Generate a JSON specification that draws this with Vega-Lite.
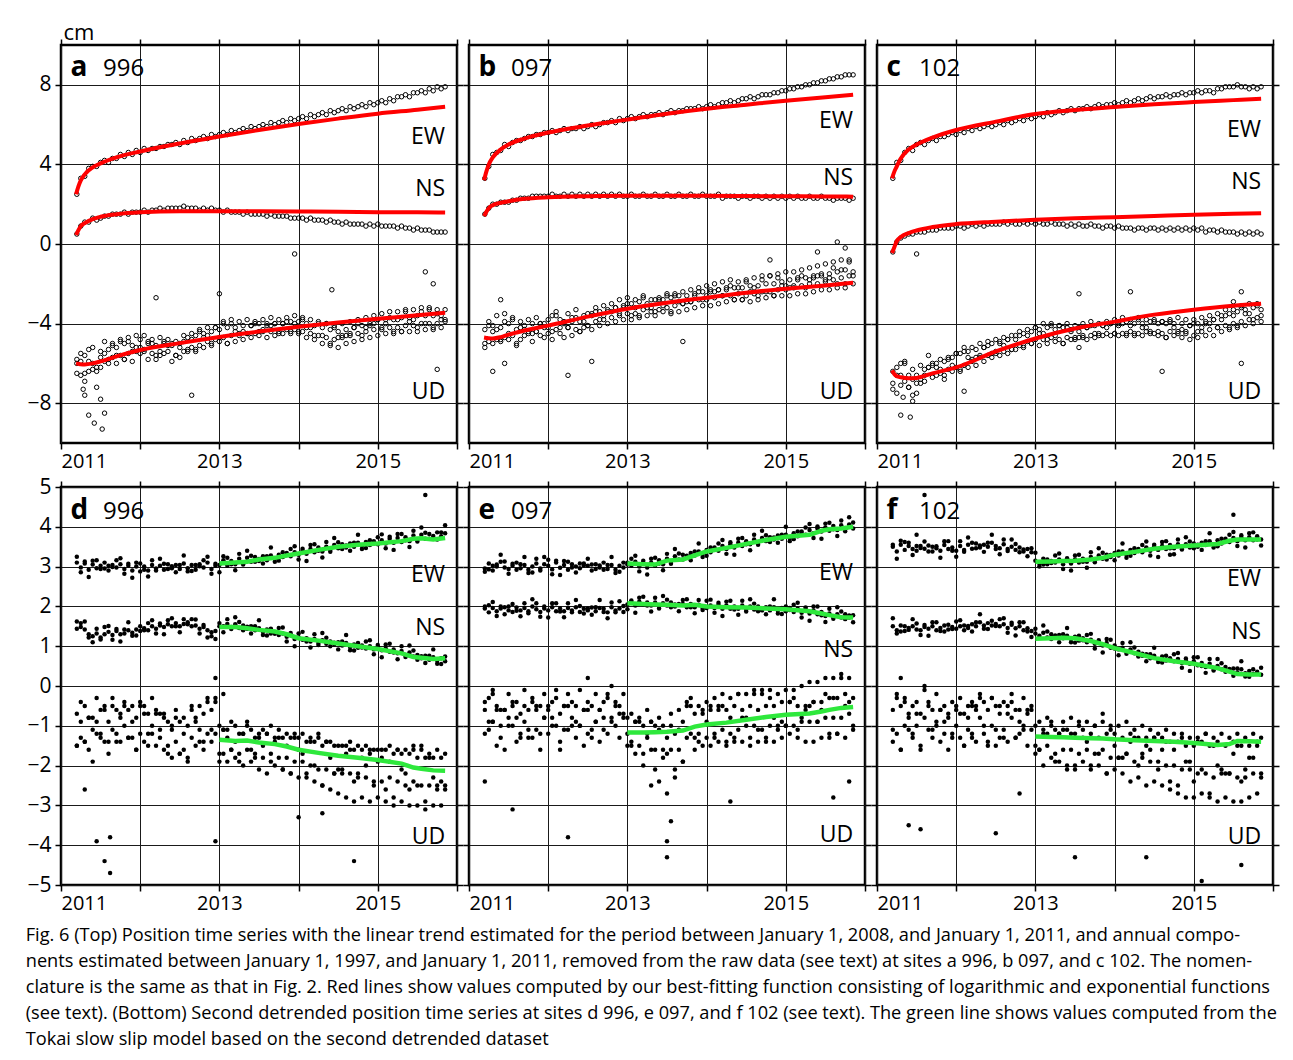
{
"$schema":"https://vega.github.io/schema/vega-lite/v6.json",
"background":"white",
"padding":{"left":25,"top":19,"right":4,"bottom":4},
"datasets":{
"pts":[
{"t":2011.2,"aE":2.5,"aN":0.5,"aU":-5.8,"aV":-6.5,"bE":3.3,"bN":1.5,"bU":-4.3,"bV":-5.2,"cE":3.3,"cN":-0.4,"cU":-6.4,"cV":-7.3,"dE":3.1,"dN":1.62,"dU":-0.7,"dV":-1.5,"eE":2.95,"eN":2.0,"eU":-0.4,"eV":-1.2,"fE":3.5,"fN":1.5,"fU":-0.6,"fV":-1.4,"aW":-6.0,"bW":-5.0,"cW":-7.0,"dW":-1.5,"eW":-0.6,"fW":-1.1},
{"t":2011.25,"aE":3.3,"aN":0.9,"aU":-6.6,"aV":-5.5,"bE":3.9,"bN":1.8,"bU":-4.9,"bV":-3.9,"cE":4.1,"cN":0.1,"cU":-7.5,"cV":-6.2,"dE":2.98,"dN":1.48,"dU":-1.3,"dV":-0.4,"eE":3.08,"eN":1.85,"eU":-1.1,"eV":-0.3,"fE":3.38,"fN":1.4,"fU":-1.2,"fV":-0.2,"aW":-5.9,"bW":-4.1,"cW":-6.6,"dW":-0.9,"eW":-0.9,"fW":-0.3},
{"t":2011.3,"aE":3.4,"aN":1.1,"aU":-5.6,"aV":-6.9,"bE":4.5,"bN":2.0,"bU":-4.1,"bV":-5.0,"cE":4.2,"cN":0.3,"cU":-6.0,"cV":-7.1,"dE":3.08,"dN":1.42,"dU":-0.5,"dV":-1.4,"eE":2.9,"eN":1.96,"eU":-0.9,"eV":-0.2,"fE":3.55,"fN":1.52,"fU":-0.5,"fV":-1.6,"aW":-6.5,"bW":-4.4,"cW":-6.6,"dW":-1.4,"eW":-0.9,"fW":-1.6},
{"t":2011.35,"aE":3.8,"aN":1.1,"aU":-6.4,"aV":-5.3,"bE":4.6,"bN":2.0,"bU":-4.8,"bV":-3.6,"cE":4.6,"cN":0.4,"cU":-6.9,"cV":-5.9,"dE":2.92,"dN":1.3,"dU":-1.6,"dV":-0.8,"eE":3.05,"eN":1.88,"eU":-0.5,"eV":-1.5,"fE":3.42,"fN":1.38,"fU":-1.0,"fV":-0.3,"aW":-5.9,"bW":-4.3,"cW":-6.0,"dW":-0.8,"eW":-0.6,"fW":-0.4},
{"t":2011.4,"aE":3.9,"aN":1.3,"aU":-5.2,"aV":-6.3,"bE":4.7,"bN":2.1,"bU":-4.2,"bV":-4.9,"cE":4.8,"cN":0.5,"cU":-7.2,"cV":-6.6,"dE":3.05,"dN":1.25,"dU":-0.8,"dV":-1.9,"eE":3.12,"eN":1.95,"eU":-1.3,"eV":-0.6,"fE":3.6,"fN":1.46,"fU":-0.7,"fV":-1.1,"aW":-6.0,"bW":-4.8,"cW":-7.2,"dW":-1.1,"eW":-1.0,"fW":-0.8},
{"t":2011.45,"aE":3.9,"aN":1.2,"aU":-6.2,"aV":-7.2,"bE":5.0,"bN":2.1,"bU":-4.7,"bV":-3.5,"cE":4.7,"cN":0.5,"cU":-6.3,"cV":-7.6,"dE":2.96,"dN":1.32,"dU":-1.2,"dV":-0.3,"eE":2.98,"eN":1.98,"eU":-0.6,"eV":-1.6,"fE":3.44,"fN":1.5,"fU":-1.3,"fV":-0.5,"aW":-6.4,"bW":-3.9,"cW":-6.8,"dW":-0.9,"eW":-0.6,"fW":-1.2},
{"t":2011.5,"aE":4.1,"aN":1.3,"aU":-5.4,"aV":-6.2,"bE":4.9,"bN":2.1,"bU":-4.0,"bV":-4.8,"cE":5.0,"cN":0.6,"cU":-6.6,"cV":-7.5,"dE":3.02,"dN":1.22,"dU":-0.6,"dV":-1.3,"eE":2.94,"eN":1.9,"eU":-0.8,"eV":-0.2,"fE":3.4,"fN":1.42,"fU":-0.4,"fV":-1.0,"aW":-5.7,"bW":-4.5,"cW":-7.0,"dW":-1.2,"eW":-1.0,"fW":-0.7},
{"t":2011.55,"aE":4.2,"aN":1.4,"aU":-5.9,"aV":-4.9,"bE":5.1,"bN":2.2,"bU":-4.6,"bV":-3.7,"cE":5.1,"cN":0.6,"cU":-6.1,"cV":-7.0,"dE":3.1,"dN":1.3,"dU":-1.4,"dV":-0.5,"eE":3.02,"eN":1.86,"eU":-1.0,"eV":-0.5,"fE":3.52,"fN":1.4,"fU":-1.5,"fV":-0.7,"aW":-5.5,"bW":-3.8,"cW":-6.8,"dW":-0.6,"eW":-0.4,"fW":-1.6},
{"t":2011.6,"aE":4.1,"aN":1.4,"aU":-5.3,"aV":-6.0,"bE":5.2,"bN":2.2,"bU":-4.3,"bV":-5.1,"cE":5.0,"cN":0.6,"cU":-6.9,"cV":-6.3,"dE":2.9,"dN":1.36,"dU":-0.9,"dV":-1.7,"eE":3.1,"eN":1.97,"eU":-0.4,"eV":-1.4,"fE":3.45,"fN":1.48,"fU":-0.8,"fV":-0.1,"aW":-5.8,"bW":-5.0,"cW":-6.6,"dW":-1.4,"eW":-0.8,"fW":0.0},
{"t":2011.65,"aE":4.3,"aN":1.5,"aU":-5.7,"aV":-5.0,"bE":5.2,"bN":2.3,"bU":-4.8,"bV":-3.9,"cE":5.2,"cN":0.7,"cU":-6.2,"cV":-5.6,"dE":3.04,"dN":1.28,"dU":-0.5,"dV":-1.1,"eE":2.96,"eN":1.9,"eU":-1.2,"eV":-0.7,"fE":3.38,"fN":1.44,"fU":-1.1,"fV":-0.4,"aW":-5.1,"bW":-4.2,"cW":-6.2,"dW":-0.3,"eW":-1.3,"fW":-0.5},
{"t":2011.7,"aE":4.3,"aN":1.5,"aU":-5.2,"aV":-6.0,"bE":5.3,"bN":2.3,"bU":-4.1,"bV":-4.6,"cE":5.3,"cN":0.7,"cU":-6.7,"cV":-6.0,"dE":2.98,"dN":1.38,"dU":-1.2,"dV":-0.6,"eE":3.04,"eN":1.96,"eU":-0.9,"eV":-0.1,"fE":3.5,"fN":1.5,"fU":-0.6,"fV":-1.3,"aW":-5.6,"bW":-4.3,"cW":-6.1,"dW":-1.4,"eW":-0.5,"fW":-1.1},
{"t":2011.75,"aE":4.5,"aN":1.5,"aU":-5.6,"aV":-4.8,"bE":5.4,"bN":2.3,"bU":-4.5,"bV":-3.8,"cE":5.2,"cN":0.7,"cU":-6.0,"cV":-6.6,"dE":3.06,"dN":1.3,"dU":-0.7,"dV":-1.4,"eE":2.92,"eN":1.88,"eU":-0.6,"eV":-1.1,"fE":3.46,"fN":1.4,"fU":-1.0,"fV":-0.2,"aW":-4.9,"bW":-4.4,"cW":-6.2,"dW":-0.8,"eW":-1.3,"fW":-0.9},
{"t":2011.8,"aE":4.4,"aN":1.6,"aU":-5.0,"aV":-5.8,"bE":5.4,"bN":2.4,"bU":-4.0,"bV":-4.9,"cE":5.4,"cN":0.8,"cU":-6.5,"cV":-5.8,"dE":2.94,"dN":1.32,"dU":-1.0,"dV":-0.4,"eE":3.0,"eN":2.0,"eU":-0.3,"eV":-1.3,"fE":3.4,"fN":1.46,"fU":-1.4,"fV":-0.6,"aW":-5.8,"bW":-4.5,"cW":-6.3,"dW":-0.5,"eW":-0.4,"fW":-0.6},
{"t":2011.85,"aE":4.6,"aN":1.5,"aU":-5.5,"aV":-4.7,"bE":5.5,"bN":2.4,"bU":-4.4,"bV":-3.7,"cE":5.4,"cN":0.8,"cU":-5.9,"cV":-6.8,"dE":3.02,"dN":1.4,"dU":-0.6,"dV":-1.3,"eE":3.08,"eN":1.93,"eU":-1.1,"eV":-0.5,"fE":3.54,"fN":1.52,"fU":-0.5,"fV":-1.2,"aW":-4.9,"bW":-4.4,"cW":-6.6,"dW":-1.3,"eW":-0.6,"fW":-0.9},
{"t":2011.9,"aE":4.5,"aN":1.6,"aU":-5.1,"aV":-5.9,"bE":5.5,"bN":2.4,"bU":-4.6,"bV":-4.0,"cE":5.5,"cN":0.8,"cU":-6.3,"cV":-5.7,"dE":2.9,"dN":1.34,"dU":-1.3,"dV":-0.5,"eE":2.95,"eN":1.86,"eU":-0.5,"eV":-1.6,"fE":3.44,"fN":1.42,"fU":-0.8,"fV":-1.6,"aW":-5.4,"bW":-4.0,"cW":-5.8,"dW":-0.9,"eW":-1.2,"fW":-0.7},
{"t":2011.95,"aE":4.7,"aN":1.6,"aU":-5.4,"aV":-4.6,"bE":5.6,"bN":2.4,"bU":-4.0,"bV":-4.7,"cE":5.6,"cN":0.8,"cU":-5.7,"cV":-6.4,"dE":3.0,"dN":1.42,"dU":-0.8,"dV":-1.6,"eE":3.06,"eN":1.95,"eU":-0.8,"eV":-0.2,"fE":3.48,"fN":1.48,"fU":-1.2,"fV":-0.4,"aW":-5.2,"bW":-4.2,"cW":-6.1,"dW":-1.6,"eW":-0.8,"fW":-1.3},
{"t":2012.0,"aE":4.6,"aN":1.6,"aU":-4.8,"aV":-5.5,"bE":5.6,"bN":2.4,"bU":-4.5,"bV":-3.8,"cE":5.5,"cN":0.9,"cU":-6.2,"cV":-5.5,"dE":2.88,"dN":1.38,"dU":-0.5,"dV":-1.2,"eE":3.02,"eN":1.9,"eU":-1.2,"eV":-0.6,"fE":3.4,"fN":1.44,"fU":-0.6,"fV":-1.0,"aW":-5.2,"bW":-4.2,"cW":-5.5,"dW":-0.4,"eW":-0.5,"fW":-0.5},
{"t":2012.05,"aE":4.8,"aN":1.7,"aU":-5.4,"aV":-4.6,"bE":5.7,"bN":2.5,"bU":-3.6,"bV":-4.8,"cE":5.7,"cN":0.9,"cU":-5.5,"cV":-6.4,"dE":3.0,"dN":1.45,"dU":-1.4,"dV":-0.5,"eE":2.93,"eN":1.98,"eU":-0.4,"eV":-1.0,"fE":3.52,"fN":1.5,"fU":-1.3,"fV":-0.3,"aW":-5.3,"bW":-4.4,"cW":-6.3,"dW":-0.7,"eW":-0.8,"fW":-0.7},
{"t":2012.1,"aE":4.7,"aN":1.6,"aU":-4.9,"aV":-5.8,"bE":5.6,"bN":2.4,"bU":-4.3,"bV":-3.4,"cE":5.6,"cN":0.8,"cU":-6.1,"cV":-5.2,"dE":2.9,"dN":1.4,"dU":-0.7,"dV":-1.5,"eE":3.1,"eN":1.88,"eU":-1.0,"eV":-0.3,"fE":3.42,"fN":1.52,"fU":-0.7,"fV":-1.5,"aW":-5.0,"bW":-3.6,"cW":-5.4,"dW":-1.2,"eW":-0.1,"fW":-1.5},
{"t":2012.15,"aE":4.8,"aN":1.7,"aU":-5.5,"aV":-4.8,"bE":5.7,"bN":2.4,"bU":-4.5,"bV":-3.8,"cE":5.8,"cN":0.9,"cU":-5.4,"cV":-6.2,"dE":3.04,"dN":1.5,"dU":-1.2,"dV":-0.3,"eE":2.97,"eN":1.95,"eU":-0.7,"eV":-1.4,"fE":3.55,"fN":1.46,"fU":-1.1,"fV":-0.5,"aW":-5.0,"bW":-4.2,"cW":-5.7,"dW":-1.0,"eW":-1.6,"fW":-0.8},
{"t":2012.2,"aE":4.8,"aN":1.7,"aU":-5.1,"aV":-5.8,"bE":5.8,"bN":2.5,"bU":-3.9,"bV":-4.7,"cE":5.7,"cN":1.0,"cU":-5.9,"cV":-5.2,"dE":2.95,"dN":1.44,"dU":-0.6,"dV":-1.5,"eE":3.04,"eN":1.88,"eU":-0.5,"eV":-1.1,"fE":3.45,"fN":1.55,"fU":-0.5,"fV":-1.2,"aW":-5.6,"bW":-4.0,"cW":-5.8,"dW":-0.7,"eW":-0.5,"fW":-1.3},
{"t":2012.25,"aE":4.9,"aN":1.8,"aU":-5.6,"aV":-4.7,"bE":5.7,"bN":2.4,"bU":-4.2,"bV":-3.5,"cE":5.9,"cN":0.9,"cU":-5.3,"cV":-6.1,"dE":3.02,"dN":1.52,"dU":-1.3,"dV":-0.7,"eE":2.92,"eN":1.96,"eU":-1.1,"eV":-0.2,"fE":3.58,"fN":1.5,"fU":-1.4,"fV":-0.6,"aW":-5.4,"bW":-4.2,"cW":-5.7,"dW":-1.1,"eW":-0.5,"fW":-0.5},
{"t":2012.3,"aE":4.9,"aN":1.7,"aU":-4.9,"aV":-5.5,"bE":5.8,"bN":2.5,"bU":-3.7,"bV":-4.6,"cE":5.8,"cN":1.0,"cU":-5.7,"cV":-5.0,"dE":2.92,"dN":1.48,"dU":-0.8,"dV":-1.6,"eE":3.06,"eN":1.9,"eU":-0.8,"eV":-0.4,"fE":3.48,"fN":1.6,"fU":-0.8,"fV":-0.2,"aW":-5.0,"bW":-3.9,"cW":-5.6,"dW":-0.7,"eW":-1.0,"fW":-0.3},
{"t":2012.35,"aE":5.0,"aN":1.8,"aU":-5.4,"aV":-4.8,"bE":5.8,"bN":2.4,"bU":-4.3,"bV":-3.3,"cE":5.9,"cN":0.9,"cU":-5.2,"cV":-5.9,"dE":3.06,"dN":1.55,"dU":-1.5,"dV":-0.9,"eE":3.0,"eN":1.98,"eU":-0.5,"eV":-1.3,"fE":3.55,"fN":1.52,"fU":-1.2,"fV":-0.4,"aW":-5.1,"bW":-3.7,"cW":-5.2,"dW":-1.7,"eW":-0.9,"fW":-1.0},
{"t":2012.4,"aE":5.0,"aN":1.8,"aU":-5.0,"aV":-5.9,"bE":5.9,"bN":2.5,"bU":-3.9,"bV":-4.4,"cE":6.0,"cN":1.0,"cU":-5.6,"cV":-4.9,"dE":2.96,"dN":1.5,"dU":-1.0,"dV":-1.8,"eE":2.96,"eN":1.86,"eU":-1.0,"eV":-0.1,"fE":3.5,"fN":1.58,"fU":-0.6,"fV":-1.5,"aW":-5.1,"bW":-4.4,"cW":-5.1,"dW":-1.1,"eW":-1.0,"fW":-1.4},
{"t":2012.45,"aE":5.1,"aN":1.8,"aU":-5.6,"aV":-4.9,"bE":5.8,"bN":2.4,"bU":-3.6,"bV":-4.2,"cE":5.9,"cN":1.0,"cU":-5.0,"cV":-5.7,"dE":3.04,"dN":1.58,"dU":-1.4,"dV":-0.6,"eE":3.08,"eN":1.94,"eU":-0.6,"eV":-1.5,"fE":3.6,"fN":1.52,"fU":-1.0,"fV":-0.3,"aW":-5.6,"bW":-3.9,"cW":-5.5,"dW":-0.8,"eW":-0.6,"fW":-0.3},
{"t":2012.5,"aE":5.0,"aN":1.8,"aU":-5.0,"aV":-5.7,"bE":5.9,"bN":2.5,"bU":-4.1,"bV":-3.5,"cE":6.0,"cN":1.0,"cU":-5.5,"cV":-4.8,"dE":2.94,"dN":1.5,"dU":-0.9,"dV":-1.7,"eE":3.02,"eN":1.9,"eU":-0.4,"eV":-1.2,"fE":3.52,"fN":1.56,"fU":-1.5,"fV":-0.5,"aW":-5.2,"bW":-4.1,"cW":-5.4,"dW":-1.7,"eW":-0.6,"fW":-1.1},
{"t":2012.55,"aE":5.2,"aN":1.9,"aU":-5.4,"aV":-4.6,"bE":6.0,"bN":2.4,"bU":-3.5,"bV":-4.3,"cE":6.1,"cN":1.0,"cU":-4.9,"cV":-5.6,"dE":3.08,"dN":1.56,"dU":-1.6,"dV":-0.8,"eE":2.9,"eN":1.97,"eU":-1.3,"eV":-0.5,"fE":3.46,"fN":1.5,"fU":-0.7,"fV":-1.3,"aW":-4.9,"bW":-3.6,"cW":-5.0,"dW":-1.2,"eW":-1.1,"fW":-0.5},
{"t":2012.6,"aE":5.1,"aN":1.8,"aU":-4.7,"aV":-5.4,"bE":5.9,"bN":2.5,"bU":-3.9,"bV":-3.2,"cE":6.0,"cN":1.1,"cU":-5.4,"cV":-4.7,"dE":2.96,"dN":1.6,"dU":-1.0,"dV":-1.8,"eE":3.06,"eN":1.88,"eU":-0.9,"eV":-0.2,"fE":3.56,"fN":1.55,"fU":-1.1,"fV":-0.4,"aW":-5.3,"bW":-3.4,"cW":-5.1,"dW":-1.9,"eW":-0.9,"fW":-1.3},
{"t":2012.65,"aE":5.3,"aN":1.8,"aU":-5.2,"aV":-4.5,"bE":6.0,"bN":2.4,"bU":-3.4,"bV":-4.1,"cE":6.2,"cN":1.0,"cU":-4.8,"cV":-5.5,"dE":3.04,"dN":1.5,"dU":-1.3,"dV":-0.6,"eE":2.98,"eN":1.96,"eU":-0.6,"eV":-1.4,"fE":3.44,"fN":1.46,"fU":-0.5,"fV":-1.4,"aW":-4.8,"bW":-3.8,"cW":-4.8,"dW":-0.5,"eW":-0.6,"fW":-0.7},
{"t":2012.7,"aE":5.2,"aN":1.8,"aU":-4.6,"aV":-5.4,"bE":6.1,"bN":2.5,"bU":-3.8,"bV":-3.1,"cE":6.1,"cN":1.1,"cU":-5.3,"cV":-4.6,"dE":2.92,"dN":1.52,"dU":-0.8,"dV":-1.5,"eE":3.1,"eN":1.94,"eU":-1.1,"eV":-0.4,"fE":3.5,"fN":1.54,"fU":-0.8,"fV":-0.2,"aW":-5.3,"bW":-3.6,"cW":-5.3,"dW":-0.9,"eW":-0.8,"fW":-0.4},
{"t":2012.75,"aE":5.3,"aN":1.7,"aU":-5.1,"aV":-4.3,"bE":6.1,"bN":2.4,"bU":-3.3,"bV":-4.0,"cE":6.2,"cN":1.0,"cU":-4.6,"cV":-5.3,"dE":3.06,"dN":1.44,"dU":-1.4,"dV":-0.5,"eE":2.94,"eN":1.85,"eU":-0.3,"eV":-1.2,"fE":3.42,"fN":1.45,"fU":-1.3,"fV":-0.6,"aW":-4.4,"bW":-3.4,"cW":-4.8,"dW":-1.1,"eW":-0.2,"fW":-1.3},
{"t":2012.8,"aE":5.4,"aN":1.8,"aU":-4.5,"aV":-5.2,"bE":6.2,"bN":2.5,"bU":-3.7,"bV":-3.0,"cE":6.3,"cN":1.0,"cU":-5.1,"cV":-4.4,"dE":2.98,"dN":1.48,"dU":-0.7,"dV":-1.6,"eE":3.04,"eN":1.98,"eU":-0.8,"eV":0.0,"fE":3.48,"fN":1.5,"fU":-0.6,"fV":-1.2,"aW":-4.7,"bW":-3.4,"cW":-4.6,"dW":-1.4,"eW":-0.9,"fW":-0.9},
{"t":2012.85,"aE":5.3,"aN":1.7,"aU":-4.9,"aV":-4.2,"bE":6.1,"bN":2.4,"bU":-3.2,"bV":-3.9,"cE":6.2,"cN":1.1,"cU":-4.5,"cV":-5.2,"dE":3.1,"dN":1.4,"dU":-1.2,"dV":-0.3,"eE":2.92,"eN":1.9,"eU":-1.0,"eV":-0.5,"fE":3.38,"fN":1.4,"fU":-1.0,"fV":-0.3,"aW":-4.6,"bW":-3.2,"cW":-5.1,"dW":-0.4,"eW":-0.4,"fW":-1.1},
{"t":2012.9,"aE":5.5,"aN":1.8,"aU":-4.4,"aV":-5.1,"bE":6.3,"bN":2.5,"bU":-3.6,"bV":-2.8,"cE":6.4,"cN":1.0,"cU":-4.9,"cV":-4.3,"dE":2.94,"dN":1.25,"dU":-0.6,"dV":-1.4,"eE":3.02,"eN":1.95,"eU":-0.5,"eV":-1.3,"fE":3.44,"fN":1.45,"fU":-0.7,"fV":-1.5,"aW":-5.0,"bW":-3.5,"cW":-4.6,"dW":-1.1,"eW":-0.7,"fW":-0.6},
{"t":2012.95,"aE":5.4,"aN":1.7,"aU":-4.8,"aV":-4.2,"bE":6.2,"bN":2.4,"bU":-3.1,"bV":-3.8,"cE":6.3,"cN":1.1,"cU":-4.4,"cV":-5.0,"dE":3.02,"dN":1.18,"dU":-0.4,"dV":-1.2,"eE":2.98,"eN":1.86,"eU":-0.7,"eV":-0.2,"fE":3.36,"fN":1.38,"fU":-0.5,"fV":-1.1,"aW":-4.2,"bW":-3.2,"cW":-5.0,"dW":-0.3,"eW":-0.8,"fW":-0.6},
{"t":2013.0,"aE":5.5,"aN":1.7,"aU":-4.3,"aV":-4.9,"bE":6.3,"bN":2.4,"bU":-3.5,"bV":-2.7,"cE":6.4,"cN":1.0,"cU":-4.8,"cV":-4.2,"dE":3.04,"dN":1.58,"dU":-1.0,"dV":-1.7,"eE":3.1,"eN":2.05,"eU":-0.8,"eV":-1.5,"fE":3.15,"fN":1.32,"fU":-1.0,"fV":-1.7,"aW":-4.7,"bW":-3.0,"cW":-4.2,"dW":-1.9,"eW":-1.2,"fW":-1.5},
{"t":2013.05,"aE":5.6,"aN":1.6,"aU":-4.7,"aV":-3.9,"bE":6.4,"bN":2.5,"bU":-3.0,"bV":-3.8,"cE":6.5,"cN":1.1,"cU":-4.3,"cV":-5.1,"dE":3.16,"dN":1.5,"dU":-1.7,"dV":-1.1,"eE":3.02,"eN":2.1,"eU":-1.4,"eV":-0.7,"fE":3.08,"fN":1.26,"fU":-1.6,"fV":-0.9,"aW":-4.0,"bW":-3.6,"cW":-4.5,"dW":-1.1,"eW":-1.5,"fW":-1.6},
{"t":2013.1,"aE":5.5,"aN":1.7,"aU":-4.2,"aV":-5.0,"bE":6.3,"bN":2.4,"bU":-3.5,"bV":-2.8,"cE":6.4,"cN":1.0,"cU":-4.8,"cV":-4.0,"dE":3.02,"dN":1.56,"dU":-1.1,"dV":-1.9,"eE":3.12,"eN":2.02,"eU":-0.9,"eV":-1.7,"fE":3.2,"fN":1.34,"fU":-1.1,"fV":-2.0,"aW":-5.0,"bW":-3.2,"cW":-4.5,"dW":-1.3,"eW":-0.9,"fW":-1.2},
{"t":2013.15,"aE":5.7,"aN":1.6,"aU":-4.6,"aV":-3.8,"bE":6.4,"bN":2.4,"bU":-2.9,"bV":-3.7,"cE":6.6,"cN":1.0,"cU":-4.2,"cV":-5.0,"dE":3.14,"dN":1.48,"dU":-1.6,"dV":-0.9,"eE":3.0,"eN":2.12,"eU":-1.5,"eV":-0.8,"fE":3.06,"fN":1.22,"fU":-1.5,"fV":-0.8,"aW":-4.0,"bW":-3.6,"cW":-4.8,"dW":-1.6,"eW":-0.9,"fW":-1.2},
{"t":2013.2,"aE":5.6,"aN":1.6,"aU":-4.2,"aV":-4.9,"bE":6.5,"bN":2.5,"bU":-3.3,"bV":-2.6,"cE":6.5,"cN":1.1,"cU":-4.7,"cV":-4.0,"dE":3.06,"dN":1.55,"dU":-1.0,"dV":-1.8,"eE":3.1,"eN":2.04,"eU":-1.0,"eV":-2.0,"fE":3.14,"fN":1.3,"fU":-1.0,"fV":-1.8,"aW":-4.4,"bW":-2.7,"cW":-4.1,"dW":-1.4,"eW":-1.7,"fW":-0.9},
{"t":2013.25,"aE":5.7,"aN":1.6,"aU":-4.6,"aV":-3.9,"bE":6.4,"bN":2.4,"bU":-3.0,"bV":-3.6,"cE":6.6,"cN":1.0,"cU":-4.3,"cV":-4.9,"dE":3.2,"dN":1.46,"dU":-1.7,"dV":-1.2,"eE":2.98,"eN":2.1,"eU":-1.3,"eV":-0.6,"fE":3.1,"fN":1.22,"fU":-1.7,"fV":-1.1,"aW":-4.5,"bW":-3.2,"cW":-4.6,"dW":-1.9,"eW":-1.2,"fW":-1.9},
{"t":2013.3,"aE":5.8,"aN":1.5,"aU":-4.1,"aV":-4.8,"bE":6.5,"bN":2.4,"bU":-3.4,"bV":-2.8,"cE":6.7,"cN":1.0,"cU":-4.8,"cV":-4.1,"dE":3.1,"dN":1.52,"dU":-1.2,"dV":-2.0,"eE":3.1,"eN":2.02,"eU":-1.6,"eV":-0.9,"fE":3.18,"fN":1.28,"fU":-1.2,"fV":-1.9,"aW":-4.4,"bW":-3.2,"cW":-4.1,"dW":-1.2,"eW":-0.9,"fW":-1.2},
{"t":2013.35,"aE":5.7,"aN":1.6,"aU":-4.5,"aV":-3.8,"bE":6.5,"bN":2.5,"bU":-2.8,"bV":-3.6,"cE":6.6,"cN":1.0,"cU":-4.2,"cV":-5.0,"dE":3.22,"dN":1.44,"dU":-1.6,"dV":-0.9,"eE":3.02,"eN":2.1,"eU":-2.1,"eV":-1.0,"fE":3.06,"fN":1.2,"fU":-1.6,"fV":-0.9,"aW":-4.5,"bW":-3.4,"cW":-5.0,"dW":-1.0,"eW":-1.6,"fW":-1.1},
{"t":2013.4,"aE":5.9,"aN":1.5,"aU":-4.1,"aV":-4.7,"bE":6.6,"bN":2.4,"bU":-3.3,"bV":-2.7,"cE":6.7,"cN":0.9,"cU":-4.7,"cV":-4.0,"dE":3.12,"dN":1.5,"dU":-1.1,"dV":-1.9,"eE":3.16,"eN":2.0,"eU":-0.8,"eV":-2.4,"fE":3.16,"fN":1.26,"fU":-1.1,"fV":-2.1,"aW":-4.1,"bW":-2.8,"cW":-4.2,"dW":-1.6,"eW":-1.1,"fW":-2.0},
{"t":2013.45,"aE":5.8,"aN":1.5,"aU":-4.5,"aV":-3.9,"bE":6.5,"bN":2.4,"bU":-2.8,"bV":-3.4,"cE":6.8,"cN":1.0,"cU":-4.3,"cV":-4.8,"dE":3.24,"dN":1.4,"dU":-1.7,"dV":-1.3,"eE":3.06,"eN":2.08,"eU":-1.6,"eV":-1.0,"fE":3.08,"fN":1.18,"fU":-1.6,"fV":-0.8,"aW":-4.0,"bW":-3.1,"cW":-4.4,"dW":-1.8,"eW":-1.8,"fW":-1.2},
{"t":2013.5,"aE":5.9,"aN":1.5,"aU":-4.0,"aV":-4.6,"bE":6.6,"bN":2.5,"bU":-3.2,"bV":-2.6,"cE":6.7,"cN":0.9,"cU":-4.8,"cV":-4.1,"dE":3.14,"dN":1.45,"dU":-1.2,"dV":-2.1,"eE":3.2,"eN":2.02,"eU":-1.3,"eV":-2.7,"fE":3.18,"fN":1.24,"fU":-1.2,"fV":-2.0,"aW":-4.4,"bW":-2.5,"cW":-4.7,"dW":-1.3,"eW":-1.7,"fW":-2.1},
{"t":2013.55,"aE":6.0,"aN":1.5,"aU":-4.4,"aV":-3.8,"bE":6.7,"bN":2.4,"bU":-2.7,"bV":-3.5,"cE":6.8,"cN":1.0,"cU":-4.2,"cV":-4.7,"dE":3.26,"dN":1.36,"dU":-1.8,"dV":-1.1,"eE":3.12,"eN":2.1,"eU":-0.7,"eV":-1.6,"fE":3.1,"fN":1.14,"fU":-1.7,"fV":-1.0,"aW":-4.3,"bW":-3.4,"cW":-4.4,"dW":-1.5,"eW":-1.0,"fW":-0.9},
{"t":2013.6,"aE":5.9,"aN":1.4,"aU":-4.0,"aV":-4.7,"bE":6.6,"bN":2.4,"bU":-3.1,"bV":-2.5,"cE":6.8,"cN":0.9,"cU":-4.7,"cV":-4.0,"dE":3.16,"dN":1.42,"dU":-1.2,"dV":-2.2,"eE":3.26,"eN":2.0,"eU":-1.2,"eV":-2.3,"fE":3.2,"fN":1.2,"fU":-1.1,"fV":-1.9,"aW":-4.1,"bW":-2.6,"cW":-4.6,"dW":-1.2,"eW":-2.1,"fW":-1.3},
{"t":2013.65,"aE":6.1,"aN":1.5,"aU":-4.4,"aV":-3.7,"bE":6.7,"bN":2.5,"bU":-2.6,"bV":-3.4,"cE":6.9,"cN":0.9,"cU":-4.2,"cV":-4.8,"dE":3.28,"dN":1.32,"dU":-1.7,"dV":-1.0,"eE":3.18,"eN":2.06,"eU":-1.6,"eV":-0.6,"fE":3.12,"fN":1.1,"fU":-1.6,"fV":-0.9,"aW":-4.1,"bW":-2.9,"cW":-4.2,"dW":-1.9,"eW":-1.1,"fW":-1.4},
{"t":2013.7,"aE":6.0,"aN":1.4,"aU":-4.0,"aV":-4.6,"bE":6.7,"bN":2.4,"bU":-3.0,"bV":-2.4,"cE":6.8,"cN":1.0,"cU":-4.6,"cV":-3.9,"dE":3.2,"dN":1.36,"dU":-1.3,"dV":-2.0,"eE":3.3,"eN":2.06,"eU":-0.9,"eV":-1.9,"fE":3.24,"fN":1.16,"fU":-1.2,"fV":-2.1,"aW":-4.0,"bW":-3.0,"cW":-4.1,"dW":-1.4,"eW":-1.9,"fW":-2.0},
{"t":2013.75,"aE":6.1,"aN":1.4,"aU":-4.4,"aV":-3.8,"bE":6.8,"bN":2.4,"bU":-2.6,"bV":-3.3,"cE":6.9,"cN":0.9,"cU":-4.1,"cV":-4.7,"dE":3.3,"dN":1.28,"dU":-1.8,"dV":-1.1,"eE":3.22,"eN":1.98,"eU":-1.3,"eV":-0.5,"fE":3.16,"fN":1.06,"fU":-1.7,"fV":-1.0,"aW":-4.5,"bW":-2.9,"cW":-4.5,"dW":-1.3,"eW":-0.4,"fW":-1.0},
{"t":2013.8,"aE":6.2,"aN":1.4,"aU":-4.0,"aV":-4.5,"bE":6.8,"bN":2.5,"bU":-2.9,"bV":-2.3,"cE":7.0,"cN":0.9,"cU":-4.6,"cV":-4.0,"dE":3.24,"dN":1.32,"dU":-1.3,"dV":-2.1,"eE":3.34,"eN":2.06,"eU":-1.2,"eV":-0.3,"fE":3.28,"fN":1.1,"fU":-1.3,"fV":-2.0,"aW":-4.0,"bW":-2.9,"cW":-4.5,"dW":-2.1,"eW":-0.5,"fW":-1.7},
{"t":2013.85,"aE":6.1,"aN":1.4,"aU":-4.3,"aV":-3.7,"bE":6.8,"bN":2.4,"bU":-2.5,"bV":-3.2,"cE":6.9,"cN":0.8,"cU":-4.1,"cV":-4.6,"dE":3.34,"dN":1.24,"dU":-1.8,"dV":-1.2,"eE":3.28,"eN":1.98,"eU":-0.7,"eV":-1.6,"fE":3.2,"fN":1.02,"fU":-1.6,"fV":-0.9,"aW":-3.9,"bW":-2.6,"cW":-4.1,"dW":-1.5,"eW":-1.3,"fW":-0.7},
{"t":2013.9,"aE":6.3,"aN":1.3,"aU":-3.9,"aV":-4.5,"bE":6.9,"bN":2.4,"bU":-2.8,"bV":-2.2,"cE":7.0,"cN":0.9,"cU":-4.5,"cV":-3.9,"dE":3.26,"dN":1.28,"dU":-1.3,"dV":-2.2,"eE":3.38,"eN":2.04,"eU":-1.4,"eV":-0.5,"fE":3.3,"fN":1.08,"fU":-1.2,"fV":-2.2,"aW":-4.4,"bW":-2.4,"cW":-4.2,"dW":-2.2,"eW":-1.2,"fW":-2.2},
{"t":2013.95,"aE":6.2,"aN":1.3,"aU":-4.3,"aV":-3.6,"bE":6.8,"bN":2.5,"bU":-2.4,"bV":-3.1,"cE":7.0,"cN":0.9,"cU":-4.0,"cV":-4.6,"dE":3.36,"dN":1.18,"dU":-1.9,"dV":-1.3,"eE":3.32,"eN":1.96,"eU":-0.6,"eV":-1.5,"fE":3.24,"fN":0.96,"fU":-1.8,"fV":-1.0,"aW":-4.0,"bW":-2.8,"cW":-4.0,"dW":-1.2,"eW":-0.7,"fW":-1.1},
{"t":2014.0,"aE":6.3,"aN":1.3,"aU":-3.9,"aV":-4.4,"bE":6.9,"bN":2.4,"bU":-2.8,"bV":-2.1,"cE":7.1,"cN":0.8,"cU":-4.5,"cV":-3.8,"dE":3.3,"dN":1.22,"dU":-1.3,"dV":-2.3,"eE":3.42,"eN":1.96,"eU":-1.3,"eV":-0.4,"fE":3.34,"fN":1.02,"fU":-1.2,"fV":-2.1,"aW":-4.5,"bW":-2.6,"cW":-4.5,"dW":-1.6,"eW":-0.9,"fW":-1.5},
{"t":2014.05,"aE":6.4,"aN":1.3,"aU":-4.4,"aV":-3.7,"bE":7.0,"bN":2.4,"bU":-2.3,"bV":-3.1,"cE":7.0,"cN":0.9,"cU":-4.0,"cV":-4.6,"dE":3.4,"dN":1.16,"dU":-1.9,"dV":-1.2,"eE":3.36,"eN":2.02,"eU":-0.6,"eV":-1.5,"fE":3.28,"fN":0.92,"fU":-1.8,"fV":-1.0,"aW":-3.8,"bW":-2.4,"cW":-4.1,"dW":-1.7,"eW":-0.5,"fW":-1.8},
{"t":2014.1,"aE":6.3,"aN":1.2,"aU":-4.0,"aV":-4.7,"bE":6.9,"bN":2.4,"bU":-2.7,"bV":-2.0,"cE":7.1,"cN":0.8,"cU":-4.5,"cV":-3.7,"dE":3.32,"dN":1.2,"dU":-1.4,"dV":-2.3,"eE":3.48,"eN":1.96,"eU":-1.2,"eV":-0.3,"fE":3.38,"fN":0.96,"fU":-1.3,"fV":-2.2,"aW":-4.2,"bW":-2.4,"cW":-4.0,"dW":-2.2,"eW":-1.3,"fW":-1.8},
{"t":2014.15,"aE":6.5,"aN":1.3,"aU":-4.5,"aV":-3.8,"bE":7.0,"bN":2.5,"bU":-2.3,"bV":-3.0,"cE":7.2,"cN":0.8,"cU":-3.9,"cV":-4.6,"dE":3.44,"dN":1.12,"dU":-2.0,"dV":-1.4,"eE":3.4,"eN":2.04,"eU":-0.5,"eV":-1.4,"fE":3.3,"fN":0.86,"fU":-1.7,"fV":-0.9,"aW":-4.2,"bW":-2.3,"cW":-4.5,"dW":-1.3,"eW":-0.6,"fW":-1.7},
{"t":2014.2,"aE":6.4,"aN":1.2,"aU":-4.1,"aV":-4.8,"bE":7.1,"bN":2.3,"bU":-2.6,"bV":-1.9,"cE":7.1,"cN":0.8,"cU":-4.4,"cV":-3.8,"dE":3.36,"dN":1.18,"dU":-1.4,"dV":-2.4,"eE":3.52,"eN":1.94,"eU":-1.1,"eV":-0.2,"fE":3.42,"fN":0.92,"fU":-1.2,"fV":-2.4,"aW":-4.6,"bW":-2.6,"cW":-4.1,"dW":-2.0,"eW":-0.5,"fW":-1.4},
{"t":2014.25,"aE":6.5,"aN":1.2,"aU":-4.6,"aV":-3.9,"bE":7.1,"bN":2.4,"bU":-2.2,"bV":-2.9,"cE":7.2,"cN":0.7,"cU":-4.0,"cV":-4.5,"dE":3.48,"dN":1.08,"dU":-2.1,"dV":-1.3,"eE":3.44,"eN":2.02,"eU":-0.6,"eV":-1.5,"fE":3.34,"fN":0.82,"fU":-1.9,"fV":-1.1,"aW":-4.0,"bW":-2.3,"cW":-4.6,"dW":-1.2,"eW":-1.4,"fW":-1.3},
{"t":2014.3,"aE":6.6,"aN":1.2,"aU":-4.2,"aV":-5.0,"bE":7.2,"bN":2.4,"bU":-2.6,"bV":-1.8,"cE":7.3,"cN":0.8,"cU":-4.5,"cV":-3.7,"dE":3.38,"dN":1.15,"dU":-1.5,"dV":-2.5,"eE":3.56,"eN":1.94,"eU":-1.2,"eV":-0.3,"fE":3.44,"fN":0.86,"fU":-1.3,"fV":-2.3,"aW":-4.6,"bW":-2.1,"cW":-3.8,"dW":-2.5,"eW":-0.8,"fW":-2.0},
{"t":2014.35,"aE":6.5,"aN":1.1,"aU":-4.7,"aV":-4.0,"bE":7.1,"bN":2.4,"bU":-2.2,"bV":-2.8,"cE":7.2,"cN":0.8,"cU":-4.0,"cV":-4.6,"dE":3.5,"dN":1.06,"dU":-2.1,"dV":-1.4,"eE":3.48,"eN":2.0,"eU":-0.5,"eV":-1.3,"fE":3.36,"fN":0.76,"fU":-1.8,"fV":-1.0,"aW":-4.0,"bW":-2.8,"cW":-4.2,"dW":-1.4,"eW":-1.4,"fW":-1.7},
{"t":2014.4,"aE":6.7,"aN":1.2,"aU":-4.3,"aV":-5.1,"bE":7.2,"bN":2.3,"bU":-2.5,"bV":-1.9,"cE":7.3,"cN":0.7,"cU":-4.4,"cV":-3.8,"dE":3.42,"dN":1.12,"dU":-1.4,"dV":-2.6,"eE":3.6,"eN":1.94,"eU":-1.1,"eV":-0.2,"fE":3.48,"fN":0.8,"fU":-1.3,"fV":-2.5,"aW":-5.0,"bW":-2.2,"cW":-4.2,"dW":-1.8,"eW":-0.2,"fW":-1.5},
{"t":2014.45,"aE":6.6,"aN":1.1,"aU":-4.8,"aV":-4.1,"bE":7.3,"bN":2.4,"bU":-2.2,"bV":-2.8,"cE":7.4,"cN":0.8,"cU":-3.9,"cV":-4.5,"dE":3.54,"dN":1.04,"dU":-2.2,"dV":-1.5,"eE":3.52,"eN":2.02,"eU":-0.6,"eV":-1.4,"fE":3.4,"fN":0.7,"fU":-1.9,"fV":-1.1,"aW":-4.2,"bW":-2.8,"cW":-4.4,"dW":-2.2,"eW":-0.8,"fW":-1.6},
{"t":2014.5,"aE":6.7,"aN":1.1,"aU":-4.4,"aV":-5.2,"bE":7.3,"bN":2.4,"bU":-2.6,"bV":-1.8,"cE":7.3,"cN":0.8,"cU":-4.5,"cV":-3.8,"dE":3.46,"dN":1.1,"dU":-1.5,"dV":-2.7,"eE":3.64,"eN":1.92,"eU":-1.0,"eV":-0.2,"fE":3.5,"fN":0.76,"fU":-1.3,"fV":-2.4,"aW":-4.7,"bW":-1.9,"cW":-3.9,"dW":-2.1,"eW":-0.8,"fW":-1.3},
{"t":2014.55,"aE":6.8,"aN":1.0,"aU":-4.7,"aV":-4.0,"bE":7.4,"bN":2.3,"bU":-2.1,"bV":-2.9,"cE":7.4,"cN":0.7,"cU":-4.0,"cV":-4.6,"dE":3.56,"dN":1.02,"dU":-2.1,"dV":-1.5,"eE":3.56,"eN":2.0,"eU":-0.5,"eV":-1.5,"fE":3.42,"fN":0.68,"fU":-1.9,"fV":-1.2,"aW":-4.6,"bW":-2.4,"cW":-4.4,"dW":-2.2,"eW":-1.3,"fW":-2.1},
{"t":2014.6,"aE":6.7,"aN":1.1,"aU":-4.3,"aV":-5.0,"bE":7.3,"bN":2.4,"bU":-2.5,"bV":-1.7,"cE":7.4,"cN":0.8,"cU":-4.5,"cV":-3.9,"dE":3.48,"dN":1.08,"dU":-1.5,"dV":-2.8,"eE":3.68,"eN":1.92,"eU":-1.0,"eV":-0.1,"fE":3.52,"fN":0.74,"fU":-1.3,"fV":-2.5,"aW":-4.6,"bW":-2.2,"cW":-3.9,"dW":-1.7,"eW":-0.2,"fW":-1.6},
{"t":2014.65,"aE":6.9,"aN":1.0,"aU":-4.6,"aV":-3.9,"bE":7.4,"bN":2.4,"bU":-2.1,"bV":-2.8,"cE":7.5,"cN":0.7,"cU":-4.0,"cV":-4.7,"dE":3.58,"dN":0.98,"dU":-2.2,"dV":-1.4,"eE":3.6,"eN":2.0,"eU":-0.6,"eV":-1.4,"fE":3.44,"fN":0.64,"fU":-2.0,"fV":-1.1,"aW":-4.5,"bW":-2.6,"cW":-4.7,"dW":-1.6,"eW":-1.1,"fW":-1.4},
{"t":2014.7,"aE":6.8,"aN":1.0,"aU":-4.2,"aV":-4.9,"bE":7.5,"bN":2.3,"bU":-2.4,"bV":-1.6,"cE":7.4,"cN":0.8,"cU":-4.4,"cV":-3.8,"dE":3.5,"dN":1.04,"dU":-1.6,"dV":-2.9,"eE":3.72,"eN":1.9,"eU":-1.1,"eV":-0.2,"fE":3.54,"fN":0.7,"fU":-1.4,"fV":-2.6,"aW":-4.2,"bW":-1.8,"cW":-3.9,"dW":-2.4,"eW":-0.1,"fW":-2.4},
{"t":2014.75,"aE":6.9,"aN":1.0,"aU":-4.5,"aV":-3.8,"bE":7.5,"bN":2.4,"bU":-2.0,"bV":-2.7,"cE":7.5,"cN":0.7,"cU":-4.0,"cV":-4.6,"dE":3.6,"dN":0.96,"dU":-2.3,"dV":-1.5,"eE":3.64,"eN":1.98,"eU":-0.5,"eV":-1.3,"fE":3.46,"fN":0.62,"fU":-2.0,"fV":-1.2,"aW":-4.0,"bW":-2.4,"cW":-4.2,"dW":-2.2,"eW":-1.4,"fW":-1.6},
{"t":2014.8,"aE":7.0,"aN":1.0,"aU":-4.1,"aV":-4.8,"bE":7.5,"bN":2.3,"bU":-2.4,"bV":-1.6,"cE":7.5,"cN":0.8,"cU":-4.5,"cV":-3.7,"dE":3.52,"dN":1.02,"dU":-1.6,"dV":-2.8,"eE":3.74,"eN":1.9,"eU":-1.0,"eV":-0.1,"fE":3.56,"fN":0.68,"fU":-1.4,"fV":-2.7,"aW":-4.6,"bW":-1.6,"cW":-4.4,"dW":-1.8,"eW":-0.3,"fW":-2.5},
{"t":2014.85,"aE":6.9,"aN":0.9,"aU":-4.4,"aV":-3.7,"bE":7.6,"bN":2.4,"bU":-2.0,"bV":-2.6,"cE":7.6,"cN":0.7,"cU":-4.0,"cV":-4.7,"dE":3.62,"dN":0.94,"dU":-2.3,"dV":-1.5,"eE":3.68,"eN":1.98,"eU":-0.5,"eV":-1.4,"fE":3.48,"fN":0.58,"fU":-2.1,"fV":-1.3,"aW":-4.2,"bW":-2.6,"cW":-4.3,"dW":-2.0,"eW":-0.8,"fW":-1.2},
{"t":2014.9,"aE":7.1,"aN":1.0,"aU":-4.0,"aV":-4.7,"bE":7.6,"bN":2.3,"bU":-2.3,"bV":-1.5,"cE":7.5,"cN":0.8,"cU":-4.5,"cV":-3.8,"dE":3.54,"dN":1.0,"dU":-1.6,"dV":-2.9,"eE":3.78,"eN":1.9,"eU":-1.1,"eV":-0.2,"fE":3.56,"fN":0.64,"fU":-1.5,"fV":-2.8,"aW":-4.1,"bW":-1.7,"cW":-4.4,"dW":-1.7,"eW":-1.0,"fW":-1.9},
{"t":2014.95,"aE":7.0,"aN":0.9,"aU":-4.3,"aV":-3.6,"bE":7.7,"bN":2.4,"bU":-1.9,"bV":-2.6,"cE":7.6,"cN":0.7,"cU":-4.1,"cV":-4.8,"dE":3.64,"dN":0.92,"dU":-2.4,"dV":-1.6,"eE":3.7,"eN":1.96,"eU":-0.4,"eV":-1.3,"fE":3.48,"fN":0.56,"fU":-2.1,"fV":-1.3,"aW":-4.0,"bW":-2.1,"cW":-4.1,"dW":-2.5,"eW":-0.9,"fW":-1.9},
{"t":2015.0,"aE":7.1,"aN":1.0,"aU":-3.8,"aV":-4.6,"bE":7.7,"bN":2.3,"bU":-2.3,"bV":-1.4,"cE":7.6,"cN":0.8,"cU":-4.6,"cV":-3.8,"dE":3.56,"dN":0.98,"dU":-1.6,"dV":-2.8,"eE":3.8,"eN":1.88,"eU":-1.0,"eV":-0.1,"fE":3.58,"fN":0.62,"fU":-1.5,"fV":-2.8,"aW":-3.8,"bW":-2.1,"cW":-4.0,"dW":-1.9,"eW":-1.0,"fW":-2.4},
{"t":2015.05,"aE":7.2,"aN":0.9,"aU":-4.3,"aV":-3.5,"bE":7.8,"bN":2.4,"bU":-1.8,"bV":-2.6,"cE":7.7,"cN":0.7,"cU":-4.0,"cV":-4.7,"dE":3.66,"dN":0.9,"dU":-2.4,"dV":-1.6,"eE":3.72,"eN":1.96,"eU":-0.4,"eV":-1.2,"fE":3.5,"fN":0.52,"fU":-2.2,"fV":-1.3,"aW":-4.2,"bW":-2.2,"cW":-4.4,"dW":-1.8,"eW":-0.4,"fW":-1.4},
{"t":2015.1,"aE":7.1,"aN":0.9,"aU":-3.8,"aV":-4.5,"bE":7.8,"bN":2.3,"bU":-2.2,"bV":-1.4,"cE":7.6,"cN":0.8,"cU":-4.4,"cV":-3.7,"dE":3.58,"dN":0.94,"dU":-1.6,"dV":-2.9,"eE":3.84,"eN":1.86,"eU":-1.0,"eV":-0.1,"fE":3.6,"fN":0.58,"fU":-1.4,"fV":-2.7,"aW":-4.0,"bW":-2.1,"cW":-4.2,"dW":-2.6,"eW":-0.3,"fW":-2.1},
{"t":2015.15,"aE":7.3,"aN":0.9,"aU":-4.2,"aV":-3.4,"bE":7.9,"bN":2.4,"bU":-1.7,"bV":-2.5,"cE":7.7,"cN":0.6,"cU":-3.9,"cV":-4.6,"dE":3.7,"dN":0.86,"dU":-2.3,"dV":-1.5,"eE":3.76,"eN":1.94,"eU":-0.5,"eV":-1.3,"fE":3.54,"fN":0.48,"fU":-2.2,"fV":-1.2,"aW":-3.7,"bW":-1.8,"cW":-4.0,"dW":-1.9,"eW":-1.1,"fW":-1.2},
{"t":2015.2,"aE":7.2,"aN":0.9,"aU":-3.8,"aV":-4.5,"bE":7.9,"bN":2.3,"bU":-2.1,"bV":-1.3,"cE":7.7,"cN":0.7,"cU":-4.3,"cV":-3.6,"dE":3.6,"dN":0.92,"dU":-1.7,"dV":-3.0,"eE":3.88,"eN":1.84,"eU":-0.9,"eV":0.0,"fE":3.64,"fN":0.56,"fU":-1.5,"fV":-2.8,"aW":-4.4,"bW":-1.6,"cW":-4.0,"dW":-2.8,"eW":-0.8,"fW":-2.7},
{"t":2015.25,"aE":7.4,"aN":0.8,"aU":-4.2,"aV":-3.4,"bE":8.0,"bN":2.3,"bU":-1.7,"bV":-2.5,"cE":7.6,"cN":0.7,"cU":-3.8,"cV":-4.6,"dE":3.72,"dN":0.82,"dU":-2.4,"dV":-1.6,"eE":3.8,"eN":1.92,"eU":-0.5,"eV":-1.4,"fE":3.56,"fN":0.44,"fU":-2.3,"fV":-1.3,"aW":-3.8,"bW":-2.2,"cW":-3.8,"dW":-1.6,"eW":-0.6,"fW":-1.5},
{"t":2015.3,"aE":7.4,"aN":0.9,"aU":-3.7,"aV":-4.4,"bE":8.0,"bN":2.4,"bU":-2.0,"bV":-1.2,"cE":7.8,"cN":0.6,"cU":-4.2,"cV":-3.5,"dE":3.62,"dN":0.88,"dU":-1.7,"dV":-2.9,"eE":3.92,"eN":1.82,"eU":-0.9,"eV":0.1,"fE":3.66,"fN":0.5,"fU":-1.4,"fV":-2.9,"aW":-4.4,"bW":-1.8,"cW":-4.2,"dW":-2.1,"eW":-0.5,"fW":-2.0},
{"t":2015.35,"aE":7.5,"aN":0.8,"aU":-4.1,"aV":-3.3,"bE":8.1,"bN":2.3,"bU":-1.6,"bV":-2.4,"cE":7.8,"cN":0.7,"cU":-3.6,"cV":-4.4,"dE":3.74,"dN":0.78,"dU":-2.5,"dV":-1.6,"eE":3.84,"eN":1.9,"eU":-0.4,"eV":-1.4,"fE":3.58,"fN":0.42,"fU":-2.2,"fV":-1.2,"aW":-3.4,"bW":-1.7,"cW":-3.8,"dW":-2.2,"eW":-0.4,"fW":-2.1},
{"t":2015.4,"aE":7.4,"aN":0.8,"aU":-3.7,"aV":-4.4,"bE":8.1,"bN":2.3,"bU":-2.0,"bV":-1.1,"cE":7.9,"cN":0.6,"cU":-4.1,"cV":-3.3,"dE":3.64,"dN":0.84,"dU":-1.7,"dV":-3.0,"eE":3.96,"eN":1.8,"eU":-0.9,"eV":0.1,"fE":3.7,"fN":0.48,"fU":-1.5,"fV":-2.8,"aW":-3.9,"bW":-1.6,"cW":-3.6,"dW":-2.6,"eW":-0.9,"fW":-2.2},
{"t":2015.45,"aE":7.6,"aN":0.7,"aU":-4.1,"aV":-3.3,"bE":8.2,"bN":2.4,"bU":-1.6,"bV":-2.3,"cE":7.9,"cN":0.6,"cU":-3.5,"cV":-4.3,"dE":3.78,"dN":0.74,"dU":-2.4,"dV":-1.5,"eE":3.88,"eN":1.86,"eU":-0.4,"eV":-1.3,"fE":3.62,"fN":0.38,"fU":-2.2,"fV":-1.3,"aW":-3.8,"bW":-1.5,"cW":-4.2,"dW":-1.6,"eW":-0.6,"fW":-2.2},
{"t":2015.5,"aE":7.6,"aN":0.8,"aU":-3.6,"aV":-4.4,"bE":8.2,"bN":2.3,"bU":-1.9,"bV":-1.0,"cE":7.9,"cN":0.6,"cU":-4.0,"cV":-3.3,"dE":3.68,"dN":0.78,"dU":-1.8,"dV":-3.0,"eE":3.98,"eN":1.76,"eU":-0.8,"eV":0.2,"fE":3.72,"fN":0.44,"fU":-1.4,"fV":-2.9,"aW":-4.2,"bW":-1.8,"cW":-3.6,"dW":-2.5,"eW":-0.2,"fW":-1.7},
{"t":2015.55,"aE":7.7,"aN":0.7,"aU":-4.0,"aV":-3.2,"bE":8.3,"bN":2.3,"bU":-1.5,"bV":-2.3,"cE":8.0,"cN":0.5,"cU":-3.4,"cV":-4.2,"dE":3.8,"dN":0.7,"dU":-2.5,"dV":-1.6,"eE":3.9,"eN":1.82,"eU":-0.3,"eV":-1.3,"fE":3.64,"fN":0.34,"fU":-2.3,"fV":-1.2,"aW":-3.4,"bW":-1.7,"cW":-4.1,"dW":-1.5,"eW":-1.2,"fW":-1.5},
{"t":2015.6,"aE":7.6,"aN":0.7,"aU":-3.6,"aV":-4.3,"bE":8.3,"bN":2.2,"bU":-1.8,"bV":-0.9,"cE":7.9,"cN":0.6,"cU":-3.9,"cV":-3.1,"dE":3.7,"dN":0.76,"dU":-1.8,"dV":-3.1,"eE":4.02,"eN":1.74,"eU":-0.8,"eV":0.2,"fE":3.74,"fN":0.42,"fU":-1.5,"fV":-2.9,"aW":-4.0,"bW":-1.2,"cW":-3.2,"dW":-2.9,"eW":-0.3,"fW":-2.4},
{"t":2015.65,"aE":7.8,"aN":0.7,"aU":-4.0,"aV":-3.2,"bE":8.4,"bN":2.3,"bU":-1.4,"bV":-2.2,"cE":7.9,"cN":0.5,"cU":-3.3,"cV":-4.1,"dE":3.82,"dN":0.66,"dU":-2.5,"dV":-1.7,"eE":3.92,"eN":1.8,"eU":-0.3,"eV":-1.2,"fE":3.66,"fN":0.32,"fU":-2.3,"fV":-1.3,"aW":-3.3,"bW":-2.0,"cW":-3.5,"dW":-1.8,"eW":-1.2,"fW":-2.1},
{"t":2015.7,"aE":7.7,"aN":0.6,"aU":-3.6,"aV":-4.2,"bE":8.4,"bN":2.3,"bU":-1.7,"bV":-0.8,"cE":7.8,"cN":0.6,"cU":-3.8,"cV":-3.0,"dE":3.72,"dN":0.72,"dU":-1.8,"dV":-3.0,"eE":4.04,"eN":1.72,"eU":-0.8,"eV":0.3,"fE":3.74,"fN":0.38,"fU":-1.5,"fV":-2.8,"aW":-4.3,"bW":-1.3,"cW":-3.5,"dW":-2.3,"eW":0.2,"fW":-1.8},
{"t":2015.75,"aE":7.9,"aN":0.6,"aU":-4.0,"aV":-3.3,"bE":8.5,"bN":2.3,"bU":-1.3,"bV":-2.2,"cE":7.9,"cN":0.5,"cU":-3.2,"cV":-4.0,"dE":3.86,"dN":0.64,"dU":-2.6,"dV":-1.6,"eE":3.94,"eN":1.8,"eU":-0.2,"eV":-1.3,"fE":3.66,"fN":0.3,"fU":-2.2,"fV":-1.2,"aW":-3.5,"bW":-2.0,"cW":-3.8,"dW":-2.5,"eW":-0.5,"fW":-1.8},
{"t":2015.8,"aE":7.8,"aN":0.6,"aU":-3.6,"aV":-4.2,"bE":8.5,"bN":2.2,"bU":-1.6,"bV":-0.8,"cE":7.8,"cN":0.6,"cU":-3.7,"cV":-3.0,"dE":3.76,"dN":0.7,"dU":-1.8,"dV":-3.0,"eE":4.06,"eN":1.72,"eU":-0.7,"eV":0.2,"fE":3.76,"fN":0.36,"fU":-1.4,"fV":-2.7,"aW":-3.8,"bW":-0.9,"cW":-3.1,"dW":-2.4,"eW":-0.4,"fW":-1.5},
{"t":2015.85,"aE":7.9,"aN":0.6,"aU":-3.9,"aV":-3.3,"bE":8.5,"bN":2.3,"bU":-1.4,"bV":-2.0,"cE":7.9,"cN":0.5,"cU":-3.3,"cV":-3.9,"dE":3.84,"dN":0.62,"dU":-2.5,"dV":-1.7,"eE":3.96,"eN":1.78,"eU":-0.3,"eV":-1.1,"fE":3.68,"fN":0.28,"fU":-2.2,"fV":-1.3,"aW":-3.8,"bW":-1.6,"cW":-3.6,"dW":-2.6,"eW":-1.0,"fW":-2.3}
],
"pts2":[
{"t":2011.2,"dF":3.25,"dM":1.44,"eF":2.87,"eM":1.95,"fF":3.55,"fM":1.7},
{"t":2011.25,"dF":2.86,"dM":1.58,"eF":2.93,"eM":2.03,"fF":3.2,"fM":1.32},
{"t":2011.3,"dF":3.13,"dM":1.62,"eF":3.02,"eM":2.11,"fF":3.65,"fM":1.37},
{"t":2011.35,"dF":2.74,"dM":1.22,"eF":3.0,"eM":1.76,"fF":3.62,"fM":1.5},
{"t":2011.4,"dF":3.15,"dM":1.1,"eF":3.3,"eM":2.0,"fF":3.52,"fM":1.41},
{"t":2011.45,"dF":3.16,"dM":1.44,"eF":3.13,"eM":1.8,"fF":3.29,"fM":1.68},
{"t":2011.5,"dF":2.94,"dM":1.17,"eF":2.82,"eM":2.0,"fF":3.52,"fM":1.57},
{"t":2011.55,"dF":2.95,"dM":1.48,"eF":3.07,"eM":2.06,"fF":3.47,"fM":1.28},
{"t":2011.6,"dF":3.02,"dM":1.51,"eF":2.92,"eM":1.89,"fF":3.63,"fM":1.53},
{"t":2011.65,"dF":2.99,"dM":1.16,"eF":3.06,"eM":1.75,"fF":3.53,"fM":1.26},
{"t":2011.7,"dF":3.16,"dM":1.43,"eF":3.24,"eM":2.08,"fF":3.38,"fM":1.6},
{"t":2011.75,"dF":3.21,"dM":1.12,"eF":2.84,"eM":1.83,"fF":3.51,"fM":1.6},
{"t":2011.8,"dF":2.82,"dM":1.42,"eF":2.85,"eM":2.18,"fF":3.22,"fM":1.38},
{"t":2011.85,"dF":3.07,"dM":1.6,"eF":3.2,"eM":2.08,"fF":3.64,"fM":1.37},
{"t":2011.9,"dF":2.72,"dM":1.26,"eF":2.9,"eM":1.74,"fF":3.64,"fM":1.54},
{"t":2011.95,"dF":3.1,"dM":1.27,"eF":3.24,"eM":2.0,"fF":3.4,"fM":1.43},
{"t":2012.0,"dF":3.08,"dM":1.5,"eF":3.17,"eM":1.72,"fF":3.25,"fM":1.62},
{"t":2012.05,"dF":2.92,"dM":1.4,"eF":2.81,"eM":2.08,"fF":3.64,"fM":1.65},
{"t":2012.1,"dF":2.75,"dM":1.58,"eF":3.15,"eM":2.08,"fF":3.37,"fM":1.4},
{"t":2012.15,"dF":3.16,"dM":1.65,"eF":2.79,"eM":1.87,"fF":3.73,"fM":1.51},
{"t":2012.2,"dF":2.9,"dM":1.32,"eF":3.14,"eM":1.73,"fF":3.6,"fM":1.37},
{"t":2012.25,"dF":3.2,"dM":1.57,"eF":3.12,"eM":2.08,"fF":3.46,"fM":1.6},
{"t":2012.3,"dF":3.07,"dM":1.3,"eF":2.98,"eM":1.85,"fF":3.53,"fM":1.8},
{"t":2012.35,"dF":2.94,"dM":1.65,"eF":2.85,"eM":2.16,"fF":3.37,"fM":1.44},
{"t":2012.4,"dF":3.01,"dM":1.7,"eF":3.08,"eM":2.01,"fF":3.6,"fM":1.43},
{"t":2012.45,"dF":2.86,"dM":1.5,"eF":3.03,"eM":1.82,"fF":3.8,"fM":1.64},
{"t":2012.5,"dF":3.04,"dM":1.35,"eF":3.2,"eM":1.95,"fF":3.44,"fM":1.51},
{"t":2012.55,"dF":3.28,"dM":1.68,"eF":3.05,"eM":1.79,"fF":3.31,"fM":1.68},
{"t":2012.6,"dF":2.88,"dM":1.55,"eF":2.94,"eM":1.98,"fF":3.68,"fM":1.7},
{"t":2012.65,"dF":2.89,"dM":1.68,"eF":3.03,"eM":2.16,"fF":3.39,"fM":1.34},
{"t":2012.7,"dF":3.04,"dM":1.67,"eF":2.92,"eM":1.86,"fF":3.68,"fM":1.59},
{"t":2012.75,"dF":3.01,"dM":1.32,"eF":3.04,"eM":1.7,"fF":3.57,"fM":1.27},
{"t":2012.8,"dF":3.16,"dM":1.53,"eF":3.24,"eM":2.1,"fF":3.36,"fM":1.6},
{"t":2012.85,"dF":3.25,"dM":1.22,"eF":2.84,"eM":1.85,"fF":3.43,"fM":1.6},
{"t":2012.9,"dF":2.82,"dM":1.35,"eF":2.87,"eM":2.13,"fF":3.26,"fM":1.37},
{"t":2012.95,"dF":3.07,"dM":1.38,"eF":3.1,"eM":2.01,"fF":3.46,"fM":1.23},
{"t":2013.0,"dF":2.86,"dM":1.5,"eF":3.05,"eM":1.93,"fF":3.35,"fM":1.44},
{"t":2013.05,"dF":3.26,"dM":1.35,"eF":3.2,"eM":2.15,"fF":3.0,"fM":1.21},
{"t":2013.1,"dF":3.22,"dM":1.68,"eF":3.27,"eM":1.84,"fF":3.05,"fM":1.52},
{"t":2013.15,"dF":3.06,"dM":1.43,"eF":2.88,"eM":2.22,"fF":3.18,"fM":1.37},
{"t":2013.2,"dF":2.91,"dM":1.73,"eF":3.15,"eM":2.24,"fF":3.09,"fM":1.18},
{"t":2013.25,"dF":3.32,"dM":1.61,"eF":2.8,"eM":2.02,"fF":3.28,"fM":1.27},
{"t":2013.3,"dF":3.05,"dM":1.4,"eF":3.2,"eM":1.87,"fF":3.33,"fM":1.1},
{"t":2013.35,"dF":3.4,"dM":1.49,"eF":3.22,"eM":2.22,"fF":2.94,"fM":1.3},
{"t":2013.4,"dF":3.27,"dM":1.32,"eF":3.08,"eM":1.95,"fF":3.21,"fM":1.46},
{"t":2013.45,"dF":3.12,"dM":1.5,"eF":2.91,"eM":2.26,"fF":2.9,"fM":1.1},
{"t":2013.5,"dF":3.19,"dM":1.65,"eF":3.32,"eM":2.17,"fF":3.28,"fM":1.09},
{"t":2013.55,"dF":3.08,"dM":1.28,"eF":3.07,"eM":1.98,"fF":3.3,"fM":1.26},
{"t":2013.6,"dF":3.26,"dM":1.27,"eF":3.44,"eM":2.05,"fF":3.12,"fM":1.15},
{"t":2013.65,"dF":3.48,"dM":1.44,"eF":3.33,"eM":1.88,"fF":2.97,"fM":1.28},
{"t":2013.7,"dF":3.12,"dM":1.31,"eF":3.18,"eM":2.16,"fF":3.36,"fM":1.31},
{"t":2013.75,"dF":3.15,"dM":1.46,"eF":3.27,"eM":2.18,"fF":3.11,"fM":0.94},
{"t":2013.8,"dF":3.36,"dM":1.47,"eF":3.16,"eM":1.98,"fF":3.46,"fM":1.15},
{"t":2013.85,"dF":3.29,"dM":1.12,"eF":3.38,"eM":1.83,"fF":3.35,"fM":0.84},
{"t":2013.9,"dF":3.44,"dM":1.33,"eF":3.58,"eM":2.16,"fF":3.18,"fM":1.18},
{"t":2013.95,"dF":3.51,"dM":1.0,"eF":3.24,"eM":1.91,"fF":3.29,"fM":1.16},
{"t":2014.0,"dF":3.18,"dM":1.32,"eF":3.27,"eM":2.14,"fF":3.16,"fM":0.94},
{"t":2014.05,"dF":3.45,"dM":1.36,"eF":3.48,"eM":2.17,"fF":3.38,"fM":0.77},
{"t":2014.1,"dF":3.14,"dM":1.12,"eF":3.43,"eM":1.84,"fF":3.58,"fM":1.08},
{"t":2014.15,"dF":3.54,"dM":0.97,"eF":3.58,"eM":2.09,"fF":3.22,"fM":0.81},
{"t":2014.2,"dF":3.56,"dM":1.3,"eF":3.67,"eM":1.76,"fF":3.27,"fM":1.1},
{"t":2014.25,"dF":3.4,"dM":1.03,"eF":3.32,"eM":2.12,"fF":3.46,"fM":0.97},
{"t":2014.3,"dF":3.23,"dM":1.33,"eF":3.61,"eM":2.14,"fF":3.39,"fM":0.74},
{"t":2014.35,"dF":3.62,"dM":1.21,"eF":3.3,"eM":1.92,"fF":3.54,"fM":0.81},
{"t":2014.4,"dF":3.37,"dM":1.0,"eF":3.7,"eM":1.79,"fF":3.63,"fM":0.62},
{"t":2014.45,"dF":3.72,"dM":1.09,"eF":3.72,"eM":2.14,"fF":3.28,"fM":0.8},
{"t":2014.5,"dF":3.61,"dM":0.92,"eF":3.56,"eM":1.87,"fF":3.55,"fM":0.96},
{"t":2014.55,"dF":3.44,"dM":1.12,"eF":3.41,"eM":2.18,"fF":3.24,"fM":0.6},
{"t":2014.6,"dF":3.53,"dM":1.28,"eF":3.8,"eM":2.07,"fF":3.62,"fM":0.59},
{"t":2014.65,"dF":3.4,"dM":0.9,"eF":3.55,"eM":1.88,"fF":3.64,"fM":0.76},
{"t":2014.7,"dF":3.6,"dM":0.89,"eF":3.9,"eM":1.95,"fF":3.46,"fM":0.65},
{"t":2014.75,"dF":3.8,"dM":1.08,"eF":3.79,"eM":1.8,"fF":3.31,"fM":0.8},
{"t":2014.8,"dF":3.44,"dM":0.97,"eF":3.62,"eM":2.0,"fF":3.68,"fM":0.83},
{"t":2014.85,"dF":3.47,"dM":1.12,"eF":3.73,"eM":2.18,"fF":3.43,"fM":0.46},
{"t":2014.9,"dF":3.66,"dM":1.15,"eF":3.6,"eM":1.82,"fF":3.74,"fM":0.69},
{"t":2014.95,"dF":3.59,"dM":0.8,"eF":3.8,"eM":1.81,"fF":3.63,"fM":0.38},
{"t":2015.0,"dF":3.74,"dM":1.03,"eF":4.0,"eM":2.0,"fF":3.46,"fM":0.72},
{"t":2015.05,"dF":3.81,"dM":0.72,"eF":3.64,"eM":1.91,"fF":3.55,"fM":0.72},
{"t":2015.1,"dF":3.46,"dM":1.04,"eF":3.69,"eM":2.04,"fF":3.42,"fM":0.5},
{"t":2015.15,"dF":3.75,"dM":1.06,"eF":3.88,"eM":2.09,"fF":3.64,"fM":0.33},
{"t":2015.2,"dF":3.42,"dM":0.84,"eF":3.83,"eM":1.72,"fF":3.84,"fM":0.68},
{"t":2015.25,"dF":3.82,"dM":0.67,"eF":3.98,"eM":1.97,"fF":3.48,"fM":0.39},
{"t":2015.3,"dF":3.82,"dM":1.0,"eF":4.07,"eM":1.64,"fF":3.51,"fM":0.68},
{"t":2015.35,"dF":3.66,"dM":0.73,"eF":3.72,"eM":2.0,"fF":3.7,"fM":0.57},
{"t":2015.4,"dF":3.49,"dM":1.02,"eF":4.01,"eM":2.0,"fF":3.65,"fM":0.36},
{"t":2015.45,"dF":3.9,"dM":0.89,"eF":3.7,"eM":1.78,"fF":3.8,"fM":0.43},
{"t":2015.5,"dF":3.63,"dM":0.66,"eF":4.08,"eM":1.61,"fF":3.87,"fM":0.26},
{"t":2015.55,"dF":3.98,"dM":0.75,"eF":4.1,"eM":1.94,"fF":3.52,"fM":0.44},
{"t":2015.6,"dF":3.85,"dM":0.58,"eF":3.94,"eM":1.69,"fF":3.79,"fM":0.62},
{"t":2015.65,"dF":3.7,"dM":0.76,"eF":3.77,"eM":1.98,"fF":3.48,"fM":0.24},
{"t":2015.7,"dF":3.77,"dM":0.92,"eF":4.16,"eM":1.87,"fF":3.84,"fM":0.23},
{"t":2015.75,"dF":3.68,"dM":0.56,"eF":3.89,"eM":1.68,"fF":3.86,"fM":0.42},
{"t":2015.8,"dF":3.86,"dM":0.55,"eF":4.24,"eM":1.77,"fF":3.68,"fM":0.31},
{"t":2015.85,"dF":4.04,"dM":0.74,"eF":4.11,"eM":1.6,"fF":3.53,"fM":0.46}
],
"out":[
{"p":"a","t":2011.3,"v":-7.6},{"p":"a","t":2011.35,"v":-8.6},{"p":"a","t":2011.42,"v":-9.0},{"p":"a","t":2011.52,"v":-9.3},{"p":"a","t":2011.55,"v":-8.5},{"p":"a","t":2011.28,"v":-7.3},{"p":"a","t":2012.65,"v":-7.6},{"p":"a","t":2013.95,"v":-0.5},{"p":"a","t":2015.6,"v":-1.4},{"p":"a","t":2015.7,"v":-2.0},{"p":"a","t":2014.42,"v":-2.3},{"p":"a","t":2011.5,"v":-7.8},{"p":"a","t":2013.0,"v":-2.5},{"p":"a","t":2012.2,"v":-2.7},{"p":"a","t":2015.75,"v":-6.3},
{"p":"b","t":2011.3,"v":-6.4},{"p":"b","t":2011.45,"v":-6.0},{"p":"b","t":2012.25,"v":-6.6},{"p":"b","t":2012.55,"v":-5.9},{"p":"b","t":2013.7,"v":-4.9},{"p":"b","t":2015.4,"v":-0.4},{"p":"b","t":2015.65,"v":0.1},{"p":"b","t":2015.75,"v":-0.2},{"p":"b","t":2011.4,"v":-2.8},{"p":"b","t":2014.8,"v":-0.8},
{"p":"c","t":2011.3,"v":-8.6},{"p":"c","t":2011.42,"v":-8.7},{"p":"c","t":2011.45,"v":-7.9},{"p":"c","t":2011.33,"v":-7.7},{"p":"c","t":2012.1,"v":-7.4},{"p":"c","t":2013.55,"v":-5.2},{"p":"c","t":2014.6,"v":-6.4},{"p":"c","t":2015.6,"v":-6.0},{"p":"c","t":2015.6,"v":-2.4},{"p":"c","t":2014.2,"v":-2.4},{"p":"c","t":2013.55,"v":-2.5},{"p":"c","t":2015.5,"v":-2.9},{"p":"c","t":2011.5,"v":-0.5},
{"p":"d","t":2011.45,"v":-3.9},{"p":"d","t":2011.55,"v":-4.4},{"p":"d","t":2011.62,"v":-4.7},{"p":"d","t":2012.95,"v":-3.9},{"p":"d","t":2014.7,"v":-4.4},{"p":"d","t":2011.62,"v":-3.8},{"p":"d","t":2015.6,"v":4.8},{"p":"d","t":2013.05,"v":-0.2},{"p":"d","t":2012.95,"v":0.2},{"p":"d","t":2011.3,"v":-2.6},{"p":"d","t":2014.0,"v":-3.3},{"p":"d","t":2014.3,"v":-3.2},
{"p":"e","t":2011.55,"v":-3.1},{"p":"e","t":2012.25,"v":-3.8},{"p":"e","t":2013.5,"v":-3.9},{"p":"e","t":2013.5,"v":-4.3},{"p":"e","t":2013.55,"v":-3.4},{"p":"e","t":2011.3,"v":-0.1},{"p":"e","t":2012.5,"v":0.2},{"p":"e","t":2011.2,"v":-2.4},{"p":"e","t":2014.3,"v":-2.9},{"p":"e","t":2015.6,"v":-2.8},{"p":"e","t":2015.8,"v":-2.4},{"p":"e","t":2013.3,"v":-2.5},
{"p":"f","t":2011.6,"v":4.8},{"p":"f","t":2011.5,"v":3.8},{"p":"f","t":2011.4,"v":-3.5},{"p":"f","t":2011.55,"v":-3.6},{"p":"f","t":2012.5,"v":-3.7},{"p":"f","t":2013.5,"v":-4.3},{"p":"f","t":2014.4,"v":-4.3},{"p":"f","t":2015.6,"v":-4.5},{"p":"f","t":2015.1,"v":-4.9},{"p":"f","t":2015.5,"v":4.3},{"p":"f","t":2014.7,"v":3.3},{"p":"f","t":2012.8,"v":-2.7},{"p":"f","t":2011.3,"v":0.2},{"p":"f","t":2012.2,"v":-0.4}
],
"red":[
{"t":2011.19,"aE":2.5,"aN":0.45,"aU":-6.0,"bE":3.2,"bN":1.4,"bU":-4.7,"cE":3.3,"cN":-0.45,"cU":-6.35},
{"t":2011.22,"aE":2.9,"aN":0.7,"aU":-6.02,"bE":3.65,"bN":1.62,"bU":-4.72,"cE":3.65,"cN":-0.15,"cU":-6.55},
{"t":2011.25,"aE":3.2,"aN":0.9,"aU":-6.04,"bE":4.0,"bN":1.8,"bU":-4.74,"cE":3.9,"cN":0.15,"cU":-6.65},
{"t":2011.3,"aE":3.5,"aN":1.05,"aU":-6.05,"bE":4.35,"bN":1.95,"bU":-4.75,"cE":4.3,"cN":0.35,"cU":-6.7},
{"t":2011.4,"aE":3.85,"aN":1.25,"aU":-6.0,"bE":4.75,"bN":2.07,"bU":-4.68,"cE":4.75,"cN":0.55,"cU":-6.75},
{"t":2011.5,"aE":4.05,"aN":1.37,"aU":-5.9,"bE":5.0,"bN":2.15,"bU":-4.55,"cE":5.0,"cN":0.68,"cU":-6.73},
{"t":2011.7,"aE":4.35,"aN":1.5,"aU":-5.65,"bE":5.3,"bN":2.27,"bU":-4.35,"cE":5.35,"cN":0.85,"cU":-6.5},
{"t":2012.0,"aE":4.65,"aN":1.6,"aU":-5.33,"bE":5.6,"bN":2.35,"bU":-4.1,"cE":5.73,"cN":1.0,"cU":-6.2},
{"t":2012.5,"aE":5.05,"aN":1.65,"aU":-4.98,"bE":5.95,"bN":2.4,"bU":-3.65,"cE":6.15,"cN":1.12,"cU":-5.4},
{"t":2013.0,"aE":5.4,"aN":1.65,"aU":-4.67,"bE":6.25,"bN":2.42,"bU":-3.25,"cE":6.53,"cN":1.22,"cU":-4.75},
{"t":2013.5,"aE":5.73,"aN":1.64,"aU":-4.4,"bE":6.55,"bN":2.42,"bU":-2.95,"cE":6.73,"cN":1.29,"cU":-4.25},
{"t":2014.0,"aE":6.03,"aN":1.63,"aU":-4.16,"bE":6.8,"bN":2.42,"bU":-2.7,"cE":6.88,"cN":1.35,"cU":-3.9},
{"t":2014.5,"aE":6.3,"aN":1.62,"aU":-3.95,"bE":7.0,"bN":2.41,"bU":-2.45,"cE":7.02,"cN":1.41,"cU":-3.55},
{"t":2015.0,"aE":6.55,"aN":1.6,"aU":-3.76,"bE":7.2,"bN":2.4,"bU":-2.25,"cE":7.13,"cN":1.47,"cU":-3.3},
{"t":2015.5,"aE":6.75,"aN":1.59,"aU":-3.58,"bE":7.38,"bN":2.39,"bU":-2.08,"cE":7.23,"cN":1.52,"cU":-3.1},
{"t":2015.85,"aE":6.9,"aN":1.58,"aU":-3.45,"bE":7.5,"bN":2.38,"bU":-1.95,"cE":7.3,"cN":1.55,"cU":-3.0}
],
"green":[
{"t":2013.0,"dE":3.08,"dN":1.48,"dU":-1.35,"eE":3.08,"eN":2.08,"eU":-1.17,"fE":3.12,"fN":1.19,"fU":-1.27},
{"t":2013.2,"dE":3.1,"dN":1.48,"dU":-1.38,"eE":3.06,"eN":2.06,"eU":-1.17,"fE":3.13,"fN":1.2,"fU":-1.28},
{"t":2013.35,"dE":3.12,"dN":1.45,"dU":-1.37,"eE":3.05,"eN":2.05,"eU":-1.16,"fE":3.14,"fN":1.21,"fU":-1.29},
{"t":2013.5,"dE":3.18,"dN":1.41,"dU":-1.42,"eE":3.15,"eN":2.04,"eU":-1.15,"fE":3.15,"fN":1.2,"fU":-1.3},
{"t":2013.7,"dE":3.22,"dN":1.37,"dU":-1.46,"eE":3.18,"eN":2.02,"eU":-1.12,"fE":3.18,"fN":1.13,"fU":-1.31},
{"t":2013.85,"dE":3.28,"dN":1.3,"dU":-1.52,"eE":3.28,"eN":2.04,"eU":-1.02,"fE":3.22,"fN":1.05,"fU":-1.32},
{"t":2014.0,"dE":3.33,"dN":1.2,"dU":-1.6,"eE":3.38,"eN":2.0,"eU":-0.97,"fE":3.3,"fN":0.95,"fU":-1.34},
{"t":2014.25,"dE":3.42,"dN":1.14,"dU":-1.68,"eE":3.47,"eN":1.98,"eU":-0.92,"fE":3.37,"fN":0.83,"fU":-1.36},
{"t":2014.5,"dE":3.5,"dN":1.07,"dU":-1.75,"eE":3.57,"eN":1.97,"eU":-0.85,"fE":3.45,"fN":0.7,"fU":-1.38},
{"t":2014.75,"dE":3.55,"dN":1.0,"dU":-1.8,"eE":3.67,"eN":1.95,"eU":-0.78,"fE":3.5,"fN":0.62,"fU":-1.4},
{"t":2015.0,"dE":3.58,"dN":0.93,"dU":-1.86,"eE":3.75,"eN":1.93,"eU":-0.72,"fE":3.53,"fN":0.56,"fU":-1.43},
{"t":2015.3,"dE":3.64,"dN":0.82,"dU":-1.95,"eE":3.8,"eN":1.88,"eU":-0.69,"fE":3.57,"fN":0.45,"fU":-1.48},
{"t":2015.45,"dE":3.7,"dN":0.73,"dU":-2.05,"eE":3.9,"eN":1.82,"eU":-0.64,"fE":3.65,"fN":0.36,"fU":-1.46},
{"t":2015.55,"dE":3.71,"dN":0.71,"dU":-2.08,"eE":3.94,"eN":1.78,"eU":-0.6,"fE":3.68,"fN":0.3,"fU":-1.38},
{"t":2015.7,"dE":3.68,"dN":0.68,"dU":-2.12,"eE":3.96,"eN":1.73,"eU":-0.55,"fE":3.68,"fN":0.29,"fU":-1.39},
{"t":2015.85,"dE":3.72,"dN":0.7,"dU":-2.13,"eE":4.0,"eN":1.72,"eU":-0.53,"fE":3.68,"fN":0.29,"fU":-1.4}
],
"labs":[
{"p":"a","lab":"EW","t":2015.85,"v":5.4},{"p":"a","lab":"NS","t":2015.85,"v":2.75},{"p":"a","lab":"UD","t":2015.85,"v":-7.45},
{"p":"b","lab":"EW","t":2015.85,"v":6.2},{"p":"b","lab":"NS","t":2015.85,"v":3.3},{"p":"b","lab":"UD","t":2015.85,"v":-7.45},
{"p":"c","lab":"EW","t":2015.85,"v":5.75},{"p":"c","lab":"NS","t":2015.85,"v":3.1},{"p":"c","lab":"UD","t":2015.85,"v":-7.45},
{"p":"d","lab":"EW","t":2015.85,"v":2.8},{"p":"d","lab":"NS","t":2015.85,"v":1.45},{"p":"d","lab":"UD","t":2015.85,"v":-3.8},
{"p":"e","lab":"EW","t":2015.85,"v":2.85},{"p":"e","lab":"NS","t":2015.85,"v":0.9},{"p":"e","lab":"UD","t":2015.85,"v":-3.75},
{"p":"f","lab":"EW","t":2015.85,"v":2.7},{"p":"f","lab":"NS","t":2015.85,"v":1.35},{"p":"f","lab":"UD","t":2015.85,"v":-3.8}
],
"ids":[
{"p":"a","L":"a","s":"996"},{"p":"b","L":"b","s":"097"},{"p":"c","L":"c","s":"102"},
{"p":"d","L":"d","s":"996"},{"p":"e","L":"e","s":"097"},{"p":"f","L":"f","s":"102"}
]
},
"vconcat":[
{"hconcat":[
{"width":396,"height":398,"layer":[
{"data":{"name":"pts"},"transform":[{"fold":["aE","aN","aU","aV","aW"],"as":["c","v"]}],"mark":{"type":"point","filled":false,"color":"black","size":20,"strokeWidth":1,"opacity":1},"encoding":{"x":{"field":"t","type":"quantitative","scale":{"domain":[2011,2016],"nice":false,"zero":false},"axis":{"orient":"bottom","values":[2011,2012,2013,2014,2015,2016],"format":"d","labelExpr":"datum.value % 2 == 1 ? datum.label : ''","labelFlush":true,"grid":true,"title":null,"labelPadding":2}},"y":{"field":"v","type":"quantitative","scale":{"domain":[-10,10],"nice":false,"zero":false},"axis":{"orient":"left","values":[-8,-4,0,4,8],"grid":true,"labelPadding":4,"labelFontSize":21,"labelFlush":false,"labelExpr":"datum.value < 0 ? '\u2212' + abs(datum.value) : datum.label","title":"cm","titleAngle":0,"titleAlign":"left","titleBaseline":"alphabetic","titleX":2,"titleY":-6,"titleFontSize":22,"titleFontWeight":"normal"}}}},
{"data":{"name":"out"},"transform":[{"filter":{"field":"p","equal":"a"}}],"mark":{"type":"point","filled":false,"color":"black","size":20,"strokeWidth":1,"opacity":1},"encoding":{"x":{"field":"t","type":"quantitative","axis":null},"y":{"field":"v","type":"quantitative","axis":null}}},
{"data":{"name":"red"},"transform":[{"fold":["aE","aN","aU"],"as":["c","v"]}],"mark":{"type":"line","color":"#ff0000","strokeWidth":4,"interpolate":"monotone"},"encoding":{"x":{"field":"t","type":"quantitative","axis":{"orient":"top","values":[2011,2012,2013,2014,2015,2016],"labels":false,"title":null}},"y":{"field":"v","type":"quantitative","axis":{"orient":"right","values":[-8,-4,0,4,8],"labels":false,"title":null}},"detail":{"field":"c"}}},
{"data":{"name":"labs"},"transform":[{"filter":{"field":"p","equal":"a"}}],"mark":{"type":"text","align":"right","baseline":"middle","fontSize":23},"encoding":{"x":{"field":"t","type":"quantitative","axis":null},"y":{"field":"v","type":"quantitative","axis":null},"text":{"field":"lab"}}},
{"data":{"name":"ids"},"transform":[{"filter":{"field":"p","equal":"a"}}],"mark":{"type":"text","align":"left","baseline":"alphabetic","fontSize":28,"fontWeight":"bold"},"encoding":{"x":{"datum":2011.12,"axis":null},"y":{"datum":8.45,"axis":null},"text":{"field":"L"}}},
{"data":{"name":"ids"},"transform":[{"filter":{"field":"p","equal":"a"}}],"mark":{"type":"text","align":"left","baseline":"alphabetic","fontSize":24},"encoding":{"x":{"datum":2011.53,"axis":null},"y":{"datum":8.45,"axis":null},"text":{"field":"s"}}}
],"resolve":{"axis":{"x":"independent","y":"independent"}}},
{"width":396,"height":398,"layer":[
{"data":{"name":"pts"},"transform":[{"fold":["bE","bN","bU","bV","bW"],"as":["c","v"]}],"mark":{"type":"point","filled":false,"color":"black","size":20,"strokeWidth":1,"opacity":1},"encoding":{"x":{"field":"t","type":"quantitative","scale":{"domain":[2011,2016],"nice":false,"zero":false},"axis":{"orient":"bottom","values":[2011,2012,2013,2014,2015,2016],"format":"d","labelExpr":"datum.value % 2 == 1 ? datum.label : ''","labelFlush":true,"grid":true,"title":null,"labelPadding":2}},"y":{"field":"v","type":"quantitative","scale":{"domain":[-10,10],"nice":false,"zero":false},"axis":{"orient":"left","values":[-8,-4,0,4,8],"grid":true,"labels":false,"title":null}}}},
{"data":{"name":"out"},"transform":[{"filter":{"field":"p","equal":"b"}}],"mark":{"type":"point","filled":false,"color":"black","size":20,"strokeWidth":1,"opacity":1},"encoding":{"x":{"field":"t","type":"quantitative","axis":null},"y":{"field":"v","type":"quantitative","axis":null}}},
{"data":{"name":"red"},"transform":[{"fold":["bE","bN","bU"],"as":["c","v"]}],"mark":{"type":"line","color":"#ff0000","strokeWidth":4,"interpolate":"monotone"},"encoding":{"x":{"field":"t","type":"quantitative","axis":{"orient":"top","values":[2011,2012,2013,2014,2015,2016],"labels":false,"title":null}},"y":{"field":"v","type":"quantitative","axis":{"orient":"right","values":[-8,-4,0,4,8],"labels":false,"title":null}},"detail":{"field":"c"}}},
{"data":{"name":"labs"},"transform":[{"filter":{"field":"p","equal":"b"}}],"mark":{"type":"text","align":"right","baseline":"middle","fontSize":23},"encoding":{"x":{"field":"t","type":"quantitative","axis":null},"y":{"field":"v","type":"quantitative","axis":null},"text":{"field":"lab"}}},
{"data":{"name":"ids"},"transform":[{"filter":{"field":"p","equal":"b"}}],"mark":{"type":"text","align":"left","baseline":"alphabetic","fontSize":28,"fontWeight":"bold"},"encoding":{"x":{"datum":2011.12,"axis":null},"y":{"datum":8.45,"axis":null},"text":{"field":"L"}}},
{"data":{"name":"ids"},"transform":[{"filter":{"field":"p","equal":"b"}}],"mark":{"type":"text","align":"left","baseline":"alphabetic","fontSize":24},"encoding":{"x":{"datum":2011.53,"axis":null},"y":{"datum":8.45,"axis":null},"text":{"field":"s"}}}
],"resolve":{"axis":{"x":"independent","y":"independent"}}},
{"width":396,"height":398,"layer":[
{"data":{"name":"pts"},"transform":[{"fold":["cE","cN","cU","cV","cW"],"as":["c","v"]}],"mark":{"type":"point","filled":false,"color":"black","size":20,"strokeWidth":1,"opacity":1},"encoding":{"x":{"field":"t","type":"quantitative","scale":{"domain":[2011,2016],"nice":false,"zero":false},"axis":{"orient":"bottom","values":[2011,2012,2013,2014,2015,2016],"format":"d","labelExpr":"datum.value % 2 == 1 ? datum.label : ''","labelFlush":true,"grid":true,"title":null,"labelPadding":2}},"y":{"field":"v","type":"quantitative","scale":{"domain":[-10,10],"nice":false,"zero":false},"axis":{"orient":"left","values":[-8,-4,0,4,8],"grid":true,"labels":false,"title":null}}}},
{"data":{"name":"out"},"transform":[{"filter":{"field":"p","equal":"c"}}],"mark":{"type":"point","filled":false,"color":"black","size":20,"strokeWidth":1,"opacity":1},"encoding":{"x":{"field":"t","type":"quantitative","axis":null},"y":{"field":"v","type":"quantitative","axis":null}}},
{"data":{"name":"red"},"transform":[{"fold":["cE","cN","cU"],"as":["c","v"]}],"mark":{"type":"line","color":"#ff0000","strokeWidth":4,"interpolate":"monotone"},"encoding":{"x":{"field":"t","type":"quantitative","axis":{"orient":"top","values":[2011,2012,2013,2014,2015,2016],"labels":false,"title":null}},"y":{"field":"v","type":"quantitative","axis":{"orient":"right","values":[-8,-4,0,4,8],"labels":false,"title":null}},"detail":{"field":"c"}}},
{"data":{"name":"labs"},"transform":[{"filter":{"field":"p","equal":"c"}}],"mark":{"type":"text","align":"right","baseline":"middle","fontSize":23},"encoding":{"x":{"field":"t","type":"quantitative","axis":null},"y":{"field":"v","type":"quantitative","axis":null},"text":{"field":"lab"}}},
{"data":{"name":"ids"},"transform":[{"filter":{"field":"p","equal":"c"}}],"mark":{"type":"text","align":"left","baseline":"alphabetic","fontSize":28,"fontWeight":"bold"},"encoding":{"x":{"datum":2011.12,"axis":null},"y":{"datum":8.45,"axis":null},"text":{"field":"L"}}},
{"data":{"name":"ids"},"transform":[{"filter":{"field":"p","equal":"c"}}],"mark":{"type":"text","align":"left","baseline":"alphabetic","fontSize":24},"encoding":{"x":{"datum":2011.53,"axis":null},"y":{"datum":8.45,"axis":null},"text":{"field":"s"}}}
],"resolve":{"axis":{"x":"independent","y":"independent"}}}
],"spacing":12,"bounds":"flush"},
{"hconcat":[
{"width":396,"height":398,"layer":[
{"data":{"name":"pts"},"transform":[{"fold":["dE","dN","dU","dV","dW"],"as":["c","v"]}],"mark":{"type":"circle","color":"black","size":20,"opacity":1},"encoding":{"x":{"field":"t","type":"quantitative","scale":{"domain":[2011,2016],"nice":false,"zero":false},"axis":{"orient":"bottom","values":[2011,2012,2013,2014,2015,2016],"format":"d","labelExpr":"datum.value % 2 == 1 ? datum.label : ''","labelFlush":true,"grid":true,"title":null,"labelPadding":2}},"y":{"field":"v","type":"quantitative","scale":{"domain":[-5,5],"nice":false,"zero":false},"axis":{"orient":"left","values":[-5,-4,-3,-2,-1,0,1,2,3,4,5],"grid":true,"labelPadding":4,"labelFontSize":21,"labelFlush":false,"labelExpr":"datum.value < 0 ? '\u2212' + abs(datum.value) : datum.label","title":null}}}},
{"data":{"name":"pts2"},"transform":[{"fold":["dF","dM"],"as":["c","v"]}],"mark":{"type":"circle","color":"black","size":20,"opacity":1},"encoding":{"x":{"field":"t","type":"quantitative","axis":null},"y":{"field":"v","type":"quantitative","axis":null}}},
{"data":{"name":"out"},"transform":[{"filter":{"field":"p","equal":"d"}}],"mark":{"type":"circle","color":"black","size":20,"opacity":1},"encoding":{"x":{"field":"t","type":"quantitative","axis":null},"y":{"field":"v","type":"quantitative","axis":null}}},
{"data":{"name":"green"},"transform":[{"fold":["dE","dN","dU"],"as":["c","v"]}],"mark":{"type":"line","color":"#2ee83c","strokeWidth":4.5},"encoding":{"x":{"field":"t","type":"quantitative","axis":{"orient":"top","values":[2011,2012,2013,2014,2015,2016],"labels":false,"title":null}},"y":{"field":"v","type":"quantitative","axis":{"orient":"right","values":[-5,-4,-3,-2,-1,0,1,2,3,4,5],"labels":false,"title":null}},"detail":{"field":"c"}}},
{"data":{"name":"labs"},"transform":[{"filter":{"field":"p","equal":"d"}}],"mark":{"type":"text","align":"right","baseline":"middle","fontSize":23},"encoding":{"x":{"field":"t","type":"quantitative","axis":null},"y":{"field":"v","type":"quantitative","axis":null},"text":{"field":"lab"}}},
{"data":{"name":"ids"},"transform":[{"filter":{"field":"p","equal":"d"}}],"mark":{"type":"text","align":"left","baseline":"alphabetic","fontSize":28,"fontWeight":"bold"},"encoding":{"x":{"datum":2011.12,"axis":null},"y":{"datum":4.2,"axis":null},"text":{"field":"L"}}},
{"data":{"name":"ids"},"transform":[{"filter":{"field":"p","equal":"d"}}],"mark":{"type":"text","align":"left","baseline":"alphabetic","fontSize":24},"encoding":{"x":{"datum":2011.53,"axis":null},"y":{"datum":4.2,"axis":null},"text":{"field":"s"}}}
],"resolve":{"axis":{"x":"independent","y":"independent"}}},
{"width":396,"height":398,"layer":[
{"data":{"name":"pts"},"transform":[{"fold":["eE","eN","eU","eV","eW"],"as":["c","v"]}],"mark":{"type":"circle","color":"black","size":20,"opacity":1},"encoding":{"x":{"field":"t","type":"quantitative","scale":{"domain":[2011,2016],"nice":false,"zero":false},"axis":{"orient":"bottom","values":[2011,2012,2013,2014,2015,2016],"format":"d","labelExpr":"datum.value % 2 == 1 ? datum.label : ''","labelFlush":true,"grid":true,"title":null,"labelPadding":2}},"y":{"field":"v","type":"quantitative","scale":{"domain":[-5,5],"nice":false,"zero":false},"axis":{"orient":"left","values":[-5,-4,-3,-2,-1,0,1,2,3,4,5],"grid":true,"labels":false,"title":null}}}},
{"data":{"name":"pts2"},"transform":[{"fold":["eF","eM"],"as":["c","v"]}],"mark":{"type":"circle","color":"black","size":20,"opacity":1},"encoding":{"x":{"field":"t","type":"quantitative","axis":null},"y":{"field":"v","type":"quantitative","axis":null}}},
{"data":{"name":"out"},"transform":[{"filter":{"field":"p","equal":"e"}}],"mark":{"type":"circle","color":"black","size":20,"opacity":1},"encoding":{"x":{"field":"t","type":"quantitative","axis":null},"y":{"field":"v","type":"quantitative","axis":null}}},
{"data":{"name":"green"},"transform":[{"fold":["eE","eN","eU"],"as":["c","v"]}],"mark":{"type":"line","color":"#2ee83c","strokeWidth":4.5},"encoding":{"x":{"field":"t","type":"quantitative","axis":{"orient":"top","values":[2011,2012,2013,2014,2015,2016],"labels":false,"title":null}},"y":{"field":"v","type":"quantitative","axis":{"orient":"right","values":[-5,-4,-3,-2,-1,0,1,2,3,4,5],"labels":false,"title":null}},"detail":{"field":"c"}}},
{"data":{"name":"labs"},"transform":[{"filter":{"field":"p","equal":"e"}}],"mark":{"type":"text","align":"right","baseline":"middle","fontSize":23},"encoding":{"x":{"field":"t","type":"quantitative","axis":null},"y":{"field":"v","type":"quantitative","axis":null},"text":{"field":"lab"}}},
{"data":{"name":"ids"},"transform":[{"filter":{"field":"p","equal":"e"}}],"mark":{"type":"text","align":"left","baseline":"alphabetic","fontSize":28,"fontWeight":"bold"},"encoding":{"x":{"datum":2011.12,"axis":null},"y":{"datum":4.2,"axis":null},"text":{"field":"L"}}},
{"data":{"name":"ids"},"transform":[{"filter":{"field":"p","equal":"e"}}],"mark":{"type":"text","align":"left","baseline":"alphabetic","fontSize":24},"encoding":{"x":{"datum":2011.53,"axis":null},"y":{"datum":4.2,"axis":null},"text":{"field":"s"}}}
],"resolve":{"axis":{"x":"independent","y":"independent"}}},
{"width":396,"height":398,"layer":[
{"data":{"name":"pts"},"transform":[{"fold":["fE","fN","fU","fV","fW"],"as":["c","v"]}],"mark":{"type":"circle","color":"black","size":20,"opacity":1},"encoding":{"x":{"field":"t","type":"quantitative","scale":{"domain":[2011,2016],"nice":false,"zero":false},"axis":{"orient":"bottom","values":[2011,2012,2013,2014,2015,2016],"format":"d","labelExpr":"datum.value % 2 == 1 ? datum.label : ''","labelFlush":true,"grid":true,"title":null,"labelPadding":2}},"y":{"field":"v","type":"quantitative","scale":{"domain":[-5,5],"nice":false,"zero":false},"axis":{"orient":"left","values":[-5,-4,-3,-2,-1,0,1,2,3,4,5],"grid":true,"labels":false,"title":null}}}},
{"data":{"name":"pts2"},"transform":[{"fold":["fF","fM"],"as":["c","v"]}],"mark":{"type":"circle","color":"black","size":20,"opacity":1},"encoding":{"x":{"field":"t","type":"quantitative","axis":null},"y":{"field":"v","type":"quantitative","axis":null}}},
{"data":{"name":"out"},"transform":[{"filter":{"field":"p","equal":"f"}}],"mark":{"type":"circle","color":"black","size":20,"opacity":1},"encoding":{"x":{"field":"t","type":"quantitative","axis":null},"y":{"field":"v","type":"quantitative","axis":null}}},
{"data":{"name":"green"},"transform":[{"fold":["fE","fN","fU"],"as":["c","v"]}],"mark":{"type":"line","color":"#2ee83c","strokeWidth":4.5},"encoding":{"x":{"field":"t","type":"quantitative","axis":{"orient":"top","values":[2011,2012,2013,2014,2015,2016],"labels":false,"title":null}},"y":{"field":"v","type":"quantitative","axis":{"orient":"right","values":[-5,-4,-3,-2,-1,0,1,2,3,4,5],"labels":false,"title":null}},"detail":{"field":"c"}}},
{"data":{"name":"labs"},"transform":[{"filter":{"field":"p","equal":"f"}}],"mark":{"type":"text","align":"right","baseline":"middle","fontSize":23},"encoding":{"x":{"field":"t","type":"quantitative","axis":null},"y":{"field":"v","type":"quantitative","axis":null},"text":{"field":"lab"}}},
{"data":{"name":"ids"},"transform":[{"filter":{"field":"p","equal":"f"}}],"mark":{"type":"text","align":"left","baseline":"alphabetic","fontSize":28,"fontWeight":"bold"},"encoding":{"x":{"datum":2011.12,"axis":null},"y":{"datum":4.2,"axis":null},"text":{"field":"L"}}},
{"data":{"name":"ids"},"transform":[{"filter":{"field":"p","equal":"f"}}],"mark":{"type":"text","align":"left","baseline":"alphabetic","fontSize":24},"encoding":{"x":{"datum":2011.53,"axis":null},"y":{"datum":4.2,"axis":null},"text":{"field":"s"}}}
],"resolve":{"axis":{"x":"independent","y":"independent"}}}
],"spacing":12,"bounds":"flush"}
],
"spacing":1,
"title":{"text":["Fig. 6  (Top) Position time series with the linear trend estimated for the period between January 1, 2008, and January 1, 2011, and annual compo-","nents estimated between January 1, 1997, and January 1, 2011, removed from the raw data (see text) at sites a 996, b 097, and c 102. The nomen-","clature is the same as that in Fig. 2. Red lines show values computed by our best-fitting function consisting of logarithmic and exponential functions","(see text). (Bottom) Second detrended position time series at sites d 996, e 097, and f 102 (see text). The green line shows values computed from the","Tokai slow slip model based on the second detrended dataset"],"orient":"bottom","anchor":"start","frame":"bounds","fontSize":18.2,"fontWeight":"normal","lineHeight":26,"offset":13,"color":"black","font":"Open Sans"},
"config":{
"font":"Open Sans",
"view":{"stroke":"black","strokeWidth":2.5},
"axis":{"domain":false,"grid":false,"tickColor":"black","tickWidth":1.5,"tickSize":6,"gridColor":"#1a1a1a","gridWidth":1,"gridOpacity":1,"labelFontSize":20,"labelColor":"black","labelOverlap":false,"labelFont":"Open Sans","titleColor":"black"},
"text":{"color":"black","font":"Open Sans"}
}
}
